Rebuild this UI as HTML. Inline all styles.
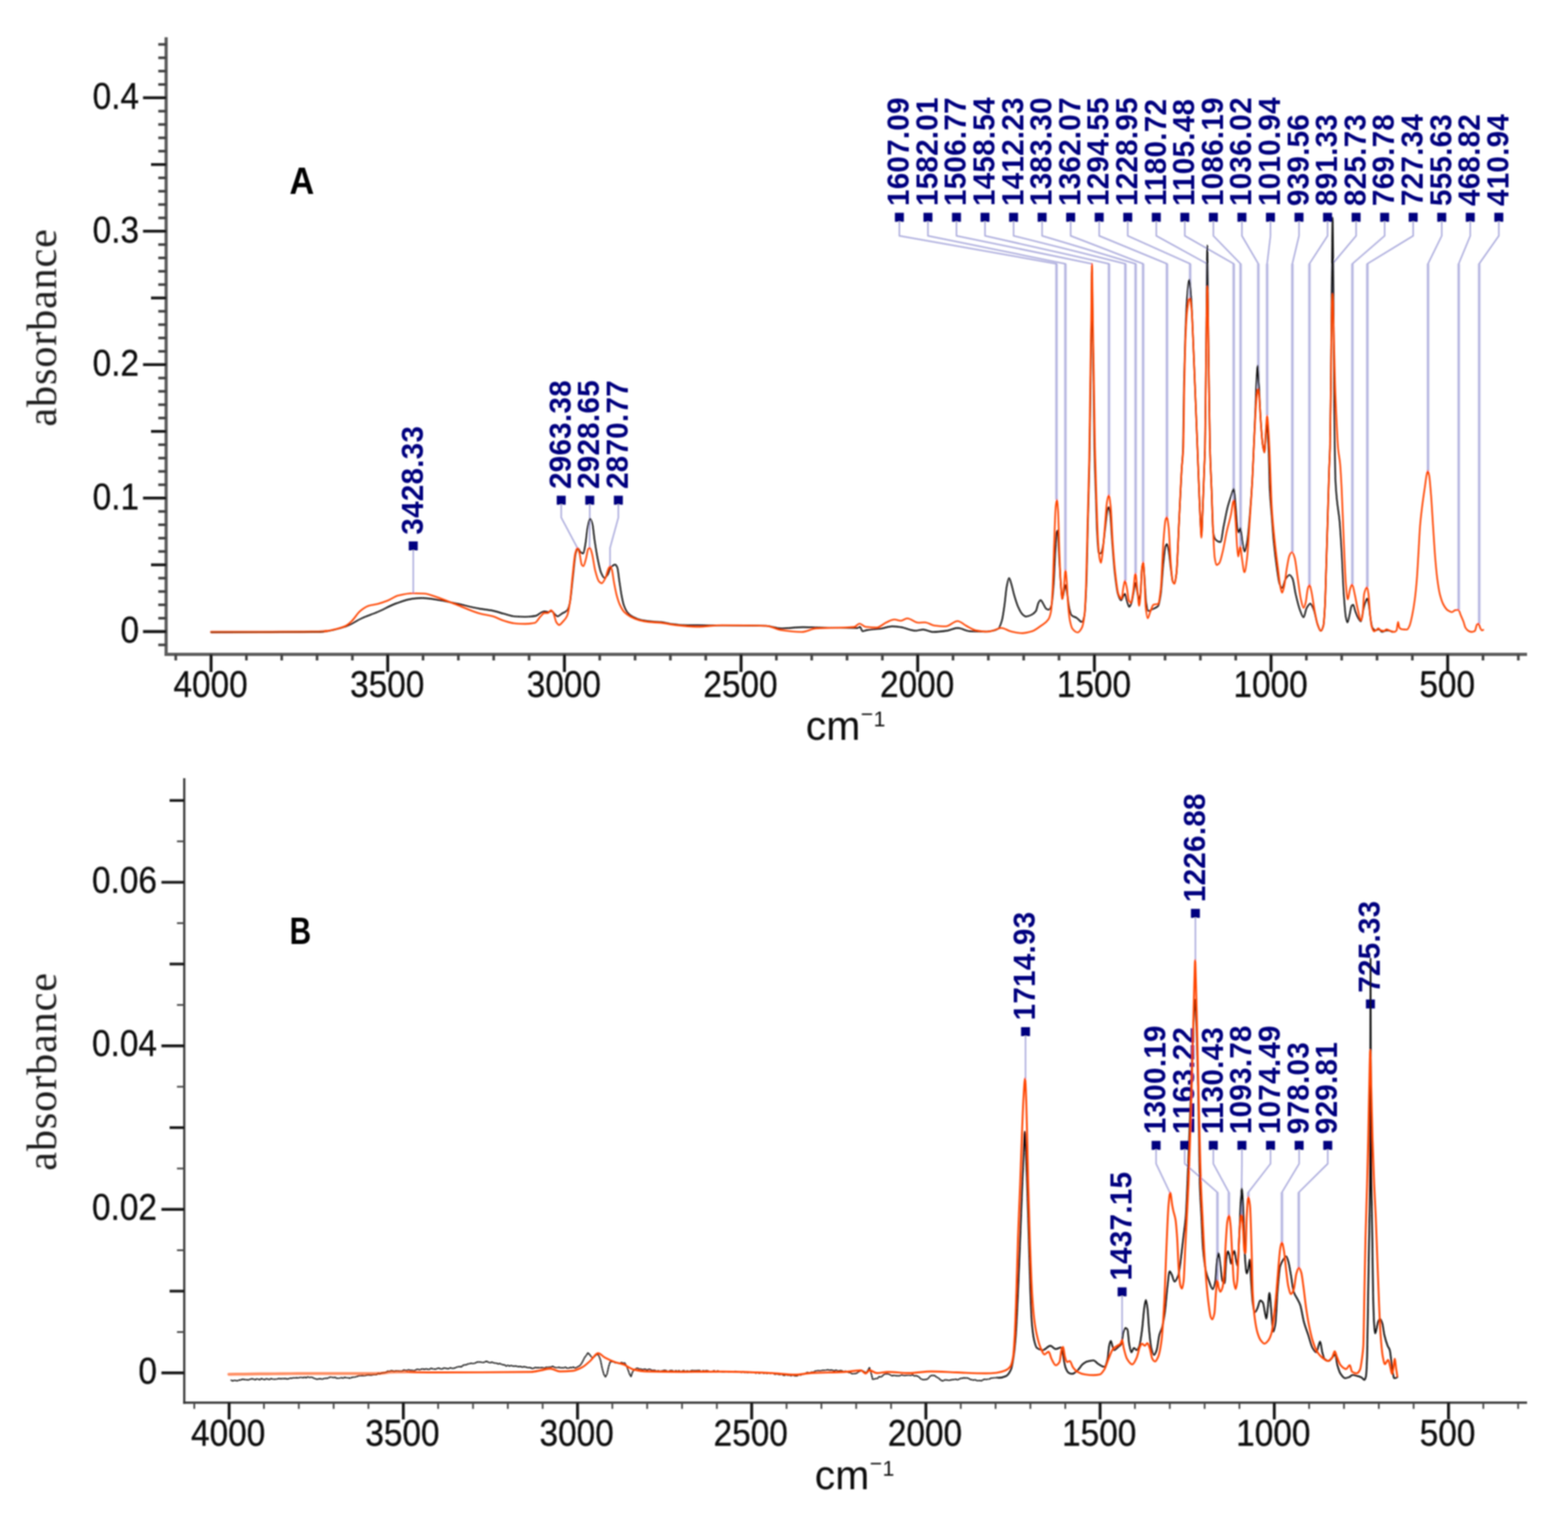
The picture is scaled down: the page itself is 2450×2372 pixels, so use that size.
<!DOCTYPE html>
<html lang="en"><head><meta charset="utf-8"><title>FTIR spectra</title><style>
html,body{margin:0;padding:0;background:#fff;}
body{width:2450px;height:2372px;overflow:hidden;}
svg{display:block;}
text{font-family:"Liberation Sans",sans-serif;fill:#111;}
.tk{font-size:57px;stroke:#111;stroke-width:0.5px;}
.tx{font-size:57px;stroke:#111;stroke-width:0.5px;}
.cm{font-size:64px;}
.sup{font-size:33px;}
.ab{font-family:"Liberation Serif",serif;font-size:66px;fill:#1a1a1a;}
.pl{font-weight:bold;font-size:59px;fill:#000;}
.pk{font-weight:bold;font-size:48.8px;letter-spacing:0.4px;fill:#00007f;}
</style></head><body>
<svg xmlns="http://www.w3.org/2000/svg" width="2450" height="2372" viewBox="0 0 2450 2372">
<rect width="2450" height="2372" fill="#fff"/>
<defs><filter id="b1" filterUnits="userSpaceOnUse" x="0" y="0" width="2450" height="2372"><feGaussianBlur stdDeviation="1"/></filter><filter id="b2" filterUnits="userSpaceOnUse" x="0" y="0" width="2450" height="2372"><feGaussianBlur stdDeviation="0.8"/></filter></defs>
<g id="plot" filter="url(#b1)">
<g id="labels">
<rect x="638.7" y="846" width="14" height="14" fill="#00007f"/>
<text class="pk" transform="translate(660.5 835.5) rotate(-90) scale(0.95 1)">3428.33</text>
<rect x="869.9" y="774.6" width="14" height="14" fill="#00007f"/>
<text class="pk" transform="translate(891.7 764.1) rotate(-90) scale(0.95 1)">2963.38</text>
<rect x="914.5" y="774.6" width="14" height="14" fill="#00007f"/>
<text class="pk" transform="translate(936.3 764.1) rotate(-90) scale(0.95 1)">2928.65</text>
<rect x="959.2" y="774.6" width="14" height="14" fill="#00007f"/>
<text class="pk" transform="translate(981 764.1) rotate(-90) scale(0.95 1)">2870.77</text>
<rect x="1398.3" y="332.5" width="14" height="14" fill="#00007f"/>
<text class="pk" transform="translate(1420.1 322) rotate(-90) scale(0.95 1)">1607.09</text>
<rect x="1442.9" y="332.5" width="14" height="14" fill="#00007f"/>
<text class="pk" transform="translate(1464.7 322) rotate(-90) scale(0.95 1)">1582.01</text>
<rect x="1487.5" y="332.5" width="14" height="14" fill="#00007f"/>
<text class="pk" transform="translate(1509.3 322) rotate(-90) scale(0.95 1)">1506.77</text>
<rect x="1532.1" y="332.5" width="14" height="14" fill="#00007f"/>
<text class="pk" transform="translate(1553.9 322) rotate(-90) scale(0.95 1)">1458.54</text>
<rect x="1576.7" y="332.5" width="14" height="14" fill="#00007f"/>
<text class="pk" transform="translate(1598.5 322) rotate(-90) scale(0.95 1)">1412.23</text>
<rect x="1621.3" y="332.5" width="14" height="14" fill="#00007f"/>
<text class="pk" transform="translate(1643.1 322) rotate(-90) scale(0.95 1)">1383.30</text>
<rect x="1665.9" y="332.5" width="14" height="14" fill="#00007f"/>
<text class="pk" transform="translate(1687.7 322) rotate(-90) scale(0.95 1)">1362.07</text>
<rect x="1710.5" y="332.5" width="14" height="14" fill="#00007f"/>
<text class="pk" transform="translate(1732.3 322) rotate(-90) scale(0.95 1)">1294.55</text>
<rect x="1755.1" y="332.5" width="14" height="14" fill="#00007f"/>
<text class="pk" transform="translate(1776.9 322) rotate(-90) scale(0.95 1)">1228.95</text>
<rect x="1799.7" y="332.5" width="14" height="14" fill="#00007f"/>
<text class="pk" transform="translate(1821.5 322) rotate(-90) scale(0.95 1)">1180.72</text>
<rect x="1844.3" y="332.5" width="14" height="14" fill="#00007f"/>
<text class="pk" transform="translate(1866.1 322) rotate(-90) scale(0.95 1)">1105.48</text>
<rect x="1888.9" y="332.5" width="14" height="14" fill="#00007f"/>
<text class="pk" transform="translate(1910.7 322) rotate(-90) scale(0.95 1)">1086.19</text>
<rect x="1933.5" y="332.5" width="14" height="14" fill="#00007f"/>
<text class="pk" transform="translate(1955.3 322) rotate(-90) scale(0.95 1)">1036.02</text>
<rect x="1978.1" y="332.5" width="14" height="14" fill="#00007f"/>
<text class="pk" transform="translate(1999.9 322) rotate(-90) scale(0.95 1)">1010.94</text>
<rect x="2022.7" y="332.5" width="14" height="14" fill="#00007f"/>
<text class="pk" transform="translate(2044.5 322) rotate(-90) scale(0.95 1)">939.56</text>
<rect x="2067.3" y="332.5" width="14" height="14" fill="#00007f"/>
<text class="pk" transform="translate(2089.1 322) rotate(-90) scale(0.95 1)">891.33</text>
<rect x="2111.9" y="332.5" width="14" height="14" fill="#00007f"/>
<text class="pk" transform="translate(2133.7 322) rotate(-90) scale(0.95 1)">825.73</text>
<rect x="2156.5" y="332.5" width="14" height="14" fill="#00007f"/>
<text class="pk" transform="translate(2178.3 322) rotate(-90) scale(0.95 1)">769.78</text>
<rect x="2201.1" y="332.5" width="14" height="14" fill="#00007f"/>
<text class="pk" transform="translate(2222.9 322) rotate(-90) scale(0.95 1)">727.34</text>
<rect x="2245.7" y="332.5" width="14" height="14" fill="#00007f"/>
<text class="pk" transform="translate(2267.5 322) rotate(-90) scale(0.95 1)">555.63</text>
<rect x="2290.3" y="332.5" width="14" height="14" fill="#00007f"/>
<text class="pk" transform="translate(2312.1 322) rotate(-90) scale(0.95 1)">468.82</text>
<rect x="2334.9" y="332.5" width="14" height="14" fill="#00007f"/>
<text class="pk" transform="translate(2356.7 322) rotate(-90) scale(0.95 1)">410.94</text>
<rect x="1595.4" y="1605" width="14" height="14" fill="#00007f"/>
<text class="pk" transform="translate(1617.2 1594.5) rotate(-90) scale(0.95 1)">1714.93</text>
<rect x="1746.3" y="2011.6" width="14" height="14" fill="#00007f"/>
<text class="pk" transform="translate(1768.1 2001.1) rotate(-90) scale(0.95 1)">1437.15</text>
<rect x="1860.8" y="1420.2" width="14" height="14" fill="#00007f"/>
<text class="pk" transform="translate(1882.6 1409.7) rotate(-90) scale(0.95 1)">1226.88</text>
<rect x="2134.3" y="1561.8" width="14" height="14" fill="#00007f"/>
<text class="pk" transform="translate(2156.1 1551.3) rotate(-90) scale(0.95 1)">725.33</text>
<rect x="1799.4" y="1782.7" width="14" height="14" fill="#00007f"/>
<text class="pk" transform="translate(1821.2 1772.2) rotate(-90) scale(0.95 1)">1300.19</text>
<rect x="1844.1" y="1782.7" width="14" height="14" fill="#00007f"/>
<text class="pk" transform="translate(1865.9 1772.2) rotate(-90) scale(0.95 1)">1163.22</text>
<rect x="1888.8" y="1782.7" width="14" height="14" fill="#00007f"/>
<text class="pk" transform="translate(1910.6 1772.2) rotate(-90) scale(0.95 1)">1130.43</text>
<rect x="1933.5" y="1782.7" width="14" height="14" fill="#00007f"/>
<text class="pk" transform="translate(1955.3 1772.2) rotate(-90) scale(0.95 1)">1093.78</text>
<rect x="1978.2" y="1782.7" width="14" height="14" fill="#00007f"/>
<text class="pk" transform="translate(2000 1772.2) rotate(-90) scale(0.95 1)">1074.49</text>
<rect x="2022.9" y="1782.7" width="14" height="14" fill="#00007f"/>
<text class="pk" transform="translate(2044.7 1772.2) rotate(-90) scale(0.95 1)">978.03</text>
<rect x="2067.6" y="1782.7" width="14" height="14" fill="#00007f"/>
<text class="pk" transform="translate(2089.4 1772.2) rotate(-90) scale(0.95 1)">929.81</text>
</g>
<g id="leaders">
<path d="M1650.8 412.2L1650.8 780.8M1664.7 412.2L1664.7 891.1M1732.8 412.2L1732.8 773.5M1758.4 412.2L1758.4 907.4M1774.4 412.2L1774.4 896M1786.1 412.2L1786.1 878M1823.4 412.2L1823.4 807.8M1859.6 412.2L1859.6 466M1886.2 412.2L1886.2 447M1927.7 412.2L1927.7 781.7M1938.4 412.2L1938.4 853.5M1966.1 412.2L1966.1 607.5M1979.9 412.2L1979.9 649M2019.3 412.2L2019.3 862.5M2046 412.2L2046 913.9M2082.2 412.2L2082.2 459M2113.1 412.2L2113.1 913.1M2136.5 412.2L2136.5 917.2M2231.3 412.2L2231.3 735.9M2279.2 412.2L2279.2 952.7M2311.2 412.2L2311.2 974.4M1827.7 1863.2L1827.7 1863.5M1902.2 1863.2L1902.2 2000.9M1920.1 1863.2L1920.1 1898.9M1940 1863.2L1940 1898.9M1950.5 1863.2L1950.5 1870.2M2003 1863.2L2003 1941.1M2029.3 1863.2L2029.3 1980.7" fill="none" stroke="#dadaf1" stroke-width="5" stroke-linecap="butt"/>
<path d="M645.7 861L645.7 927M876.9 789.6L876.9 808.6M876.9 808.6L902.1 856.1M902.1 856.1L902.1 856.2M921.5 789.6L921.5 808.6M921.5 808.6L921.2 856.1M966.2 789.6L966.2 808.6M966.2 808.6L953.2 856.1M953.2 856.1L953.2 884.8M1405.3 347.5L1405.3 368.5M1405.3 368.5L1650.8 412.2M1449.9 347.5L1449.9 368.5M1449.9 368.5L1664.7 412.2M1494.5 347.5L1494.5 368.5M1494.5 368.5L1706.2 412.2M1539.1 347.5L1539.1 368.5M1539.1 368.5L1732.8 412.2M1583.7 347.5L1583.7 368.5M1583.7 368.5L1758.4 412.2M1628.3 347.5L1628.3 368.5M1628.3 368.5L1774.4 412.2M1672.9 347.5L1672.9 368.5M1672.9 368.5L1786.1 412.2M1717.5 347.5L1717.5 368.5M1717.5 368.5L1823.4 412.2M1762.1 347.5L1762.1 368.5M1762.1 368.5L1859.6 412.2M1806.7 347.5L1806.7 368.5M1806.7 368.5L1886.2 412.2M1851.3 347.5L1851.3 368.5M1851.3 368.5L1927.7 412.2M1895.9 347.5L1895.9 368.5M1895.9 368.5L1938.4 412.2M1940.5 347.5L1940.5 368.5M1940.5 368.5L1966.1 412.2M1985.1 347.5L1985.1 368.5M1985.1 368.5L1979.9 412.2M2029.7 347.5L2029.7 368.5M2029.7 368.5L2019.3 412.2M2074.3 347.5L2074.3 368.5M2074.3 368.5L2046 412.2M2118.9 347.5L2118.9 368.5M2118.9 368.5L2082.2 412.2M2163.5 347.5L2163.5 368.5M2163.5 368.5L2113.1 412.2M2208.1 347.5L2208.1 368.5M2208.1 368.5L2136.5 412.2M2252.7 347.5L2252.7 368.5M2252.7 368.5L2231.3 412.2M2297.3 347.5L2297.3 368.5M2297.3 368.5L2279.2 412.2M2341.9 347.5L2341.9 368.5M2341.9 368.5L2311.2 412.2M1602.4 1620L1602.4 1685M1753.3 2026.6L1753.3 2093M1867.8 1435.2L1867.8 1500M1806.4 1797.7L1806.4 1818.4M1806.4 1818.4L1827.7 1863.2M1851.1 1797.7L1851.1 1818.4M1851.1 1818.4L1902.2 1863.2M1895.8 1797.7L1895.8 1818.4M1895.8 1818.4L1920.1 1863.2M1940.5 1797.7L1940.5 1818.4M1940.5 1818.4L1940 1863.2M1985.2 1797.7L1985.2 1818.4M1985.2 1818.4L1950.5 1863.2M2029.9 1797.7L2029.9 1818.4M2029.9 1818.4L2003 1863.2M2074.6 1797.7L2074.6 1818.4M2074.6 1818.4L2029.3 1863.2" fill="none" stroke="#dadaf1" stroke-width="3.0" stroke-linecap="round"/>
<path d="M1650.8 412.2L1650.8 780.8M1664.7 412.2L1664.7 891.1M1732.8 412.2L1732.8 773.5M1758.4 412.2L1758.4 907.4M1774.4 412.2L1774.4 896M1786.1 412.2L1786.1 878M1823.4 412.2L1823.4 807.8M1859.6 412.2L1859.6 466M1886.2 412.2L1886.2 447M1927.7 412.2L1927.7 781.7M1938.4 412.2L1938.4 853.5M1966.1 412.2L1966.1 607.5M1979.9 412.2L1979.9 649M2019.3 412.2L2019.3 862.5M2046 412.2L2046 913.9M2082.2 412.2L2082.2 459M2113.1 412.2L2113.1 913.1M2136.5 412.2L2136.5 917.2M2231.3 412.2L2231.3 735.9M2279.2 412.2L2279.2 952.7M2311.2 412.2L2311.2 974.4M1827.7 1863.2L1827.7 1863.5M1902.2 1863.2L1902.2 2000.9M1920.1 1863.2L1920.1 1898.9M1940 1863.2L1940 1898.9M1950.5 1863.2L1950.5 1870.2M2003 1863.2L2003 1941.1M2029.3 1863.2L2029.3 1980.7" fill="none" stroke="#acacdd" stroke-width="2.3" stroke-linecap="butt"/>
<path d="M645.7 861L645.7 927M876.9 789.6L876.9 808.6M876.9 808.6L902.1 856.1M902.1 856.1L902.1 856.2M921.5 789.6L921.5 808.6M921.5 808.6L921.2 856.1M966.2 789.6L966.2 808.6M966.2 808.6L953.2 856.1M953.2 856.1L953.2 884.8M1405.3 347.5L1405.3 368.5M1405.3 368.5L1650.8 412.2M1449.9 347.5L1449.9 368.5M1449.9 368.5L1664.7 412.2M1494.5 347.5L1494.5 368.5M1494.5 368.5L1706.2 412.2M1539.1 347.5L1539.1 368.5M1539.1 368.5L1732.8 412.2M1583.7 347.5L1583.7 368.5M1583.7 368.5L1758.4 412.2M1628.3 347.5L1628.3 368.5M1628.3 368.5L1774.4 412.2M1672.9 347.5L1672.9 368.5M1672.9 368.5L1786.1 412.2M1717.5 347.5L1717.5 368.5M1717.5 368.5L1823.4 412.2M1762.1 347.5L1762.1 368.5M1762.1 368.5L1859.6 412.2M1806.7 347.5L1806.7 368.5M1806.7 368.5L1886.2 412.2M1851.3 347.5L1851.3 368.5M1851.3 368.5L1927.7 412.2M1895.9 347.5L1895.9 368.5M1895.9 368.5L1938.4 412.2M1940.5 347.5L1940.5 368.5M1940.5 368.5L1966.1 412.2M1985.1 347.5L1985.1 368.5M1985.1 368.5L1979.9 412.2M2029.7 347.5L2029.7 368.5M2029.7 368.5L2019.3 412.2M2074.3 347.5L2074.3 368.5M2074.3 368.5L2046 412.2M2118.9 347.5L2118.9 368.5M2118.9 368.5L2082.2 412.2M2163.5 347.5L2163.5 368.5M2163.5 368.5L2113.1 412.2M2208.1 347.5L2208.1 368.5M2208.1 368.5L2136.5 412.2M2252.7 347.5L2252.7 368.5M2252.7 368.5L2231.3 412.2M2297.3 347.5L2297.3 368.5M2297.3 368.5L2279.2 412.2M2341.9 347.5L2341.9 368.5M2341.9 368.5L2311.2 412.2M1602.4 1620L1602.4 1685M1753.3 2026.6L1753.3 2093M1867.8 1435.2L1867.8 1500M1806.4 1797.7L1806.4 1818.4M1806.4 1818.4L1827.7 1863.2M1851.1 1797.7L1851.1 1818.4M1851.1 1818.4L1902.2 1863.2M1895.8 1797.7L1895.8 1818.4M1895.8 1818.4L1920.1 1863.2M1940.5 1797.7L1940.5 1818.4M1940.5 1818.4L1940 1863.2M1985.2 1797.7L1985.2 1818.4M1985.2 1818.4L1950.5 1863.2M2029.9 1797.7L2029.9 1818.4M2029.9 1818.4L2003 1863.2M2074.6 1797.7L2074.6 1818.4M2074.6 1818.4L2029.3 1863.2" fill="none" stroke="#9e9ed7" stroke-width="1.5" stroke-linecap="round"/>
</g>
<g id="curves">
<path d="M361 2156.7L363.5 2157.8L366 2156.9L368.5 2157.3L371 2157.6L373.5 2156.5L376 2156.3L378.5 2155.2L381 2155.5L383.5 2155.8L386 2156L388.5 2156.2L391 2155.2L393.5 2154.5L396 2154.9L398.5 2156.1L401 2154.6L403.5 2155.1L406 2156L408.5 2154.1L411 2155.2L413.5 2155.9L416 2154.4L418.5 2155L421 2155.7L423.5 2154.1L426 2154.9L428.5 2155.3L431 2155.1L433.5 2154.6L436 2154L438.5 2154.5L441 2154.2L443.5 2154.3L446 2154L448.5 2154.8L451 2154.5L453.5 2153.4L456 2153.7L458.5 2152.9L461 2153.1L463.5 2152.7L466 2153.1L468.5 2152.4L471 2152.4L473.5 2152.8L476 2152L478.5 2152.9L481 2151.4L483.5 2152.5L486 2151.9L488.5 2152.5L491 2153.9L493.5 2154.7L496 2155.2L498.5 2154.5L501 2154.4L503.5 2155.1L506 2154.1L508.5 2153.8L511 2153.8L513.5 2152.9L516 2151.6L518.5 2152.1L521 2152.7L523.5 2152.1L526 2153.6L528.5 2153.6L531 2153.4L533.5 2152.7L536 2153.5L538.5 2152.2L541 2152.6L543.5 2152.9L546 2153.5L548.5 2152.9L551 2152L553.5 2151.9L556 2151.3L558.5 2150.5L561 2149.6L563.5 2149.6L566 2149.3L568.5 2149.6L571 2149.4L573.5 2148.6L576 2148.3L578.5 2148.7L581 2148.7L583.5 2148.1L586 2148.1L588.5 2148.1L591 2145.9L593.5 2147.1L596 2145.3L598.5 2145L601 2144.9L603.5 2144.1L606 2142.4L608.5 2143L611 2141.6L613.5 2142L616 2142.8L618.5 2141.9L621 2142.1L623.5 2142.3L626 2142.4L628.5 2142.2L631 2140.6L633.5 2141.4L636 2141.4L638.5 2140.4L641 2141.3L643.5 2141.3L646 2141.6L648.5 2141.6L651 2139.8L653.5 2139.8L656 2140.5L658.5 2139.3L661 2139.3L663.5 2139.8L666 2138.8L668.5 2139.8L671 2139.8L673.5 2138L676 2138.9L678.5 2139.3L681 2139.5L683.5 2138.1L686 2137.8L688.5 2139.1L691 2139.1L693.5 2137.6L696 2138L698.5 2138.5L701 2138.7L703.5 2137.2L706 2138.1L708.5 2138.2L711 2137.5L713.5 2136.4L716 2135.6L718.5 2135.5L721 2135.8L723.5 2133.5L726 2132.7L728.5 2132.6L731 2131.3L733.5 2130.9L736 2130.1L738.5 2130.6L741 2130.4L743.5 2129.3L746 2128.2L748.5 2128.2L751 2128.4L753.5 2128.9L756 2129L758.5 2127.5L761 2127.2L763.5 2128.9L766 2129.3L768.5 2128.5L771 2129.4L773.5 2130L776 2130.1L778.5 2131.4L781 2130.5L783.5 2131.8L786 2132.5L788.5 2132.8L791 2134.7L793.5 2133.2L796 2134.7L798.5 2133.7L801 2134.5L803.5 2134.7L806 2134.4L808.5 2135.3L811 2135.5L813.5 2135.2L816 2136.3L818.5 2135.5L821 2136L823.5 2136.7L826 2137L828.5 2136.9L831 2138.3L833.5 2138.2L836 2136.7L838.5 2137.2L841 2137L843.5 2137.4L846 2137L848.5 2137.3L851 2137.9L853.5 2136.4L856 2136.6L858.5 2136.2L861 2136.3L863.5 2134.9L866 2136.5L868.5 2137.2L871 2136.9L873.5 2136.5L876 2137.3L878.5 2137.4L881 2137.3L883.5 2136.3L886 2137.9L888.5 2137.9L891 2136.8L893.5 2137.2L896 2136.1L898.5 2137.9L901 2137L903.5 2135.4L906 2134.1L908.5 2130.8L911 2126.2L913.5 2121.1L916 2118L918.5 2114L921 2116.3L923.5 2119.5L926 2122.4L928.5 2120.1L931 2117.7L933.5 2115.7L936 2118.8L938.5 2126.2L941 2138.6L943.5 2147.6L946 2151.6L948.5 2147.1L951 2135.5L953.5 2127.6L956 2127.9L958.5 2127.7L961 2129.5L963.5 2129.2L966 2130.3L968.5 2130.3L971 2128.9L973.5 2130.1L976 2129.6L978.5 2133.6L981 2139.5L983.5 2146.7L986 2151L988.5 2143.3L991 2140.6L993.5 2138.7L996 2137.8L998.5 2139.4L1001 2139.2L1003.5 2140.1L1006 2139.8L1008.5 2139.5L1011 2141.1L1013.5 2139.6L1016 2139.8L1018.5 2141.5L1021 2141.1L1023.5 2141.3L1026 2142.6L1028.5 2141.6L1031 2142.8L1033.5 2142.3L1036 2141.7L1038.5 2141.2L1041 2141.6L1043.5 2143.1L1046 2142L1048.5 2141.5L1051 2141.8L1053.5 2143L1056 2141.6L1058.5 2142.8L1061 2141.5L1063.5 2143.2L1066 2142.3L1068.5 2141.4L1071 2143.2L1073.5 2142L1076 2142.8L1078.5 2142.4L1081 2141.5L1083.5 2141.6L1086 2141.7L1088.5 2141.7L1091 2141.5L1093.5 2141.5L1096 2143.3L1098.5 2141.6L1101 2142.5L1103.5 2141.7L1106 2141.9L1108.5 2143.1L1111 2143.5L1113.5 2142.6L1116 2141.7L1118.5 2143.7L1121 2141.9L1123.5 2142.6L1126 2143L1128.5 2143.7L1131 2143.7L1133.5 2143.3L1136 2142.9L1138.5 2143.9L1141 2144L1143.5 2144.1L1146 2143.9L1148.5 2142.8L1151 2143.3L1153.5 2143.7L1156 2143.9L1158.5 2144.6L1161 2143.5L1163.5 2144.5L1166 2144L1168.5 2144.9L1171 2143.9L1173.5 2144.6L1176 2143.9L1178.5 2144.3L1181 2145.9L1183.5 2144.7L1186 2146L1188.5 2145.4L1191 2144.6L1193.5 2146.2L1196 2144.9L1198.5 2146.5L1201 2145L1203.5 2146.5L1206 2145.6L1208.5 2146.2L1211 2147.6L1213.5 2146.9L1216 2147.5L1218.5 2148L1221 2147L1223.5 2148.8L1226 2149.2L1228.5 2148L1231 2149L1233.5 2148.7L1236 2149.8L1238.5 2148.5L1241 2149.5L1243.5 2150.1L1246 2149.7L1248.5 2148L1251 2148.9L1253.5 2147L1256 2147.3L1258.5 2145.9L1261 2144.5L1263.5 2145L1266 2144.6L1268.5 2144L1271 2144.2L1273.5 2142.5L1276 2142.1L1278.5 2141.6L1281 2142.2L1283.5 2141.6L1286 2141.3L1288.5 2141.4L1291 2140.9L1293.5 2140.3L1296 2141.2L1298.5 2140.8L1301 2141.2L1303.5 2142.3L1306 2140.9L1308.5 2141.9L1311 2142.1L1313.5 2141.5L1316 2142.1L1318.5 2143.3L1321 2142.3L1323.5 2143.6L1326 2144.7L1328.5 2144.6L1331 2146.6L1333.5 2146.4L1336 2146.2L1338.5 2145.7L1341 2143.7L1343.5 2142.9L1346 2141L1348.5 2142.4L1351 2143.8L1353.5 2145L1356 2141.4L1358.5 2137.1L1361 2145.1L1363.5 2155.3L1366 2154.9L1368.5 2154.1L1371 2154.1L1373.5 2151.1L1376 2151.6L1378.5 2150.3L1381 2147.7L1383.5 2146.8L1386 2146.5L1388.5 2147L1391 2148.2L1393.5 2149.7L1396 2149.3L1398.5 2149.4L1401 2149.8L1403.5 2149.8L1406 2149.7L1408.5 2148.2L1411 2149L1413.5 2149.2L1416 2149L1418.5 2148.9L1421 2148.9L1423.5 2149.2L1426 2147.8L1428.5 2150.1L1431 2149.5L1433.5 2150.4L1436 2151.6L1438.5 2154.3L1441 2155.5L1443.5 2155.9L1446 2155.5L1448.5 2155.2L1451 2153.2L1453.5 2150.2L1456 2149.2L1458.5 2149.3L1461 2149.8L1463.5 2151.9L1466 2153L1468.5 2155.3L1471 2157.3L1473.5 2157.7L1476 2156.2L1478.5 2156.3L1481 2156.6L1483.5 2156.9L1486 2156.2L1488.5 2155.7L1491 2155.6L1493.5 2155.1L1496 2156.1L1498.5 2155.1L1501 2153.8L1503.5 2153.7L1506 2153L1508.5 2153.2L1511 2153.2L1513.5 2153.9L1516 2155.5L1518.5 2155.8L1521 2156.6L1523.5 2155.9L1526 2157.2L1528.5 2157.4L1531 2157.1L1533.5 2157.7L1536 2156L1538.5 2155.1L1541 2155.6L1543.5 2155.1L1546 2154.9L1548.5 2153.4L1551 2153.4L1553.5 2152.9L1556 2152.8L1558.5 2152.5L1561 2152.9L1562 2152.8" fill="none" stroke="#0a0a0a" stroke-width="1.9" stroke-linejoin="round" stroke-linecap="round"/>
<path d="M330 988C386.67 988 443.33 987.91 500 987.5C513.33 987.4 526.67 983.13 540 979C548.33 976.42 556.67 969.99 565 966.25C573.33 962.51 581.67 959.8 590 956.25C600 951.99 610 945.95 620 942.5C628.33 939.62 636.67 936.35 645 935.5C650 934.99 655 934.5 660 934.5C667.5 934.5 675 935.94 682.5 937C692.5 938.41 702.5 940.91 712.5 943C725 945.61 737.5 949.09 750 951.25C756.67 952.4 763.33 952.9 770 954.2C775.6 955.29 781.2 957.43 786.8 958.9C792.43 960.38 798.07 962.65 803.7 963.1C809.3 963.55 814.9 963.9 820.5 963.9C826.1 963.9 831.7 963.25 837.3 962.2C840.13 961.67 842.97 958.39 845.8 957.2C847.47 956.5 849.13 955.5 850.8 955.5C853.07 955.5 855.33 956.4 857.6 956.4C859 956.4 860.4 954.7 861.8 954.7C863.47 954.7 865.13 958.21 866.8 959.7C868.2 960.95 869.6 963.1 871 963.1C873.27 963.1 875.53 960.29 877.8 958.9C880.6 957.18 883.4 956.81 886.2 953.8C887.6 952.29 889 947.81 890.4 942C892.07 935.08 893.73 914.02 895.4 900C896.8 888.22 898.2 869.45 899.6 864.6C900.73 860.68 901.87 857 903 857C904.4 857 905.8 861.9 907.2 862.9C908.6 863.9 910 864.9 911.4 864.9C912.53 864.9 913.67 855.8 914.8 849.4C915.93 843 917.07 829.76 918.2 824.2C919.47 817.99 920.73 810.4 922 810.4C923.23 810.4 924.47 814.66 925.7 819.1C926.83 823.18 927.97 836.86 929.1 844.4C930.8 855.72 932.5 866.53 934.2 874.7C935.87 882.71 937.53 891.09 939.2 894.9C940.9 898.78 942.6 903 944.3 903C945.97 903 947.63 900.53 949.3 898.3C951 896.03 952.7 888.22 954.4 886.5C956.63 884.24 958.87 882.3 961.1 882.3C962.23 882.3 963.37 884.13 964.5 886.5C965.6 888.8 966.7 901.21 967.8 908.4C968.93 915.81 970.07 924.34 971.2 930.3C972.33 936.26 973.47 942.16 974.6 945.4C976.57 951.01 978.53 954.9 980.5 957.2C983.3 960.48 986.1 962.42 988.9 963.9C993.37 966.27 997.83 968.14 1002.3 969C1009.07 970.3 1015.83 971.04 1022.6 971.5C1025.97 971.73 1029.33 971.74 1032.7 972C1037.73 972.38 1042.77 974.23 1047.8 974.9C1053.4 975.65 1059 976.44 1064.6 976.6C1073.07 976.84 1081.53 976.9 1090 977C1125.83 977.44 1161.67 977.21 1197.5 978C1205 978.16 1212.5 982 1220 982C1231.67 982 1243.33 980 1255 980C1262.5 980 1270 980.38 1277.5 980.5C1298.33 980.84 1319.17 981.25 1340 981.25C1341.25 981.25 1342.5 979.5 1343.75 979.5C1345 979.5 1346.25 986.25 1347.5 986.25C1350 986.25 1352.5 984.9 1355 984.5C1362.5 983.3 1370 983.09 1377.5 982C1382.92 981.21 1388.33 978.75 1393.75 978.75C1398.33 978.75 1402.92 979.41 1407.5 980C1415 980.96 1422.5 985.5 1430 985.5C1434.17 985.5 1438.33 983.75 1442.5 983.75C1447.5 983.75 1452.5 987.5 1457.5 987.5C1465 987.5 1472.5 986.52 1480 985.5C1485.42 984.76 1490.83 981.25 1496.25 981.25C1502.5 981.25 1508.75 985.9 1515 986.25C1523.33 986.72 1531.67 987 1540 987C1543.33 987 1546.67 986.39 1550 985.8C1553.27 985.22 1556.53 984.55 1559.8 982.5C1561.7 981.31 1563.6 975.93 1565.5 969.5C1566.87 964.88 1568.23 954.61 1569.6 945C1570.7 937.26 1571.8 922.96 1572.9 917.2C1574.13 910.74 1575.37 903.3 1576.6 903.3C1577.8 903.3 1579 908.63 1580.2 912.3C1581.57 916.47 1582.93 923.86 1584.3 928.6C1586.47 936.11 1588.63 943.41 1590.8 948.2C1593 953.06 1595.2 957.68 1597.4 959.7C1599.3 961.44 1601.2 963.3 1603.1 963.3C1606.1 963.3 1609.1 961.91 1612.1 960.5C1614.27 959.48 1616.43 957.92 1618.6 954.8C1619.97 952.83 1621.33 944.16 1622.7 941.7C1623.77 939.78 1624.83 937.6 1625.9 937.6C1627.27 937.6 1628.63 941.23 1630 943.3C1631.63 945.77 1633.27 950.65 1634.9 951.5C1636.27 952.21 1637.63 952.8 1639 952.8C1640.37 952.8 1641.73 949.47 1643.1 945C1644.2 941.4 1645.3 927.25 1646.4 912.3C1647.2 901.43 1648 876.07 1648.8 863.3C1649.63 849.99 1650.47 832.32 1651.3 830.6C1651.73 829.7 1652.17 829 1652.6 829C1653.23 829 1653.87 852.4 1654.5 863.3C1655.5 880.51 1656.5 899.45 1657.5 912.3C1658.23 921.72 1658.97 936 1659.7 936C1660.6 936 1661.5 928.9 1662.4 925C1663.2 921.53 1664 913.9 1664.8 913.9C1665.73 913.9 1666.67 923.04 1667.6 928.6C1668.7 935.15 1669.8 946.83 1670.9 951.5C1671.97 956.02 1673.03 960.28 1674.1 961.3C1676.83 963.93 1679.57 963.72 1682.3 965.4C1685 967.06 1687.7 971.9 1690.4 971.9C1691.77 971.9 1693.13 967.64 1694.5 961.3C1695.5 956.66 1696.5 936.01 1697.5 912.3C1698.3 893.33 1699.1 846.3 1699.9 814.3C1700.73 780.96 1701.57 759.69 1702.4 716.3C1702.93 688.53 1703.47 639.9 1704 600C1704.43 567.58 1704.87 536.33 1705.3 500C1705.6 474.85 1705.9 418 1706.2 418C1706.57 418 1706.93 473.23 1707.3 500C1707.77 534.07 1708.23 565.42 1708.7 600C1709.13 632.11 1709.57 679.24 1710 700C1710.83 739.92 1711.67 755.44 1712.5 781.7C1713.03 798.5 1713.57 820.53 1714.1 830.6C1714.93 846.33 1715.77 862.47 1716.6 863.3C1717.67 864.37 1718.73 864.9 1719.8 864.9C1720.9 864.9 1722 859.78 1723.1 855.1C1724.47 849.29 1725.83 833.34 1727.2 822.5C1728.3 813.78 1729.4 799.95 1730.5 796.4C1731.13 794.36 1731.77 792.3 1732.4 792.3C1733.1 792.3 1733.8 796.89 1734.5 801.3C1735.6 808.23 1736.7 832.85 1737.8 847C1739.17 864.58 1740.53 884.22 1741.9 896C1743.53 910.08 1745.17 923.7 1746.8 928.6C1748.43 933.5 1750.07 938.1 1751.7 938.1C1752.8 938.1 1753.9 933.74 1755 931.9C1755.9 930.39 1756.8 927.8 1757.7 927.8C1758.7 927.8 1759.7 935.36 1760.7 938.4C1761.93 942.15 1763.17 948.2 1764.4 948.2C1765.6 948.2 1766.8 944.89 1768 941.7C1769.1 938.77 1770.2 931 1771.3 925.4C1772.23 920.65 1773.17 910.7 1774.1 910.7C1775.07 910.7 1776.03 921.12 1777 925.4C1777.97 929.68 1778.93 936.8 1779.9 936.8C1780.67 936.8 1781.43 931.4 1782.2 925.4C1782.9 919.92 1783.6 892.45 1784.3 887.8C1784.97 883.37 1785.63 879.6 1786.3 879.6C1787 879.6 1787.7 894.94 1788.4 904.1C1789.23 915.01 1790.07 936.21 1790.9 941.7C1791.97 948.73 1793.03 954.8 1794.1 954.8C1796.03 954.8 1797.97 953.25 1799.9 952.3C1803.17 950.7 1806.43 950.37 1809.7 946.6C1811.03 945.06 1812.37 937.3 1813.7 928.6C1815.07 919.68 1816.43 892.51 1817.8 879.6C1818.9 869.21 1820 855.98 1821.1 853.5C1821.9 851.69 1822.7 850.2 1823.5 850.2C1824.33 850.2 1825.17 855.61 1826 860C1827.1 865.79 1828.2 879.65 1829.3 887.8C1830.37 895.71 1831.43 907.2 1832.5 909C1833.33 910.41 1834.17 911.5 1835 911.5C1836.07 911.5 1837.13 904.11 1838.2 896C1839.57 885.61 1840.93 841.52 1842.3 814.3C1843.67 787.08 1845.03 756.27 1846.4 732.7C1847.1 720.63 1847.8 718.3 1848.5 700C1849 686.93 1849.5 624.32 1850 600C1850.67 567.57 1851.33 543.67 1852 525C1852.83 501.67 1853.67 480.87 1854.5 470C1855.73 453.91 1856.97 437 1858.2 437C1859.3 437 1860.4 454.61 1861.5 470C1862.33 481.66 1863.17 505.53 1864 525C1865 548.36 1866 575 1867 600C1868.33 633.33 1869.67 665.96 1871 700C1871.83 721.27 1872.67 744.54 1873.5 765C1874.2 782.19 1874.9 801.34 1875.6 814C1876.13 823.64 1876.67 838 1877.2 838C1877.87 838 1878.53 813.3 1879.2 798C1880 779.64 1880.8 754.49 1881.6 732.7C1882 721.81 1882.4 716.43 1882.8 700C1883.2 683.57 1883.6 636.46 1884 600C1884.33 569.61 1884.67 530.43 1885 500C1885.47 457.39 1885.93 383.5 1886.4 383.5C1886.87 383.5 1887.33 461.14 1887.8 500C1888.2 533.31 1888.6 571.23 1889 600C1889.53 638.36 1890.07 679.74 1890.6 700C1891.43 731.65 1892.27 743.09 1893.1 765.3C1893.9 786.63 1894.7 825.69 1895.5 830.6C1896.87 838.99 1898.23 842.55 1899.6 843.7C1902.07 845.78 1904.53 847 1907 847C1908.63 847 1910.27 830.48 1911.9 822.5C1914.07 811.91 1916.23 799.7 1918.4 791.5C1920.3 784.31 1922.2 779.02 1924.1 773.5C1925.3 770.01 1926.5 763.7 1927.7 763.7C1928.67 763.7 1929.63 780.1 1930.6 789.8C1931.7 800.83 1932.8 822.42 1933.9 827.4C1934.43 829.81 1934.97 832.3 1935.5 832.3C1936.33 832.3 1937.17 825 1938 825C1939.1 825 1940.2 841.02 1941.3 847C1942.37 852.8 1943.43 861.7 1944.5 861.7C1945.87 861.7 1947.23 854.21 1948.6 847C1949.97 839.79 1951.33 821.99 1952.7 806.1C1954.07 790.21 1955.43 772.98 1956.8 749C1957.53 736.13 1958.27 716.93 1959 700C1959.83 680.76 1960.67 660.43 1961.5 640C1962.1 625.29 1962.7 605.35 1963.3 595C1963.9 584.65 1964.5 571.3 1965.1 571.3C1965.73 571.3 1966.37 589.17 1967 600C1967.83 614.25 1968.67 636.8 1969.5 650C1970.67 668.48 1971.83 687.45 1973 695C1973.9 700.82 1974.8 707 1975.7 707C1976.3 707 1976.9 692.41 1977.5 685C1978.17 676.76 1978.83 660 1979.5 660C1980 660 1980.5 672 1981 680C1981.5 688 1982 697.06 1982.5 710C1983 722.94 1983.5 754.51 1984 765C1985 785.98 1986 792.77 1987 806C1988.07 820.11 1989.13 836.07 1990.2 847C1991.83 863.73 1993.47 876.49 1995.1 887.8C1996.47 897.26 1997.83 908.88 1999.2 912.3C2000.57 915.72 2001.93 918.8 2003.3 918.8C2004.93 918.8 2006.57 908.45 2008.2 905.8C2010.37 902.28 2012.53 898.4 2014.7 898.4C2016.33 898.4 2017.97 901.02 2019.6 904.1C2021.23 907.18 2022.87 921.59 2024.5 928.6C2026.7 938.04 2028.9 947.39 2031.1 953.1C2033 958.03 2034.9 964.6 2036.8 964.6C2038.43 964.6 2040.07 952.66 2041.7 949.9C2043.6 946.69 2045.5 943.3 2047.4 943.3C2049.03 943.3 2050.67 947.78 2052.3 951.5C2054.47 956.43 2056.63 970.42 2058.8 976C2060.43 980.21 2062.07 985.8 2063.7 985.8C2065.07 985.8 2066.43 982.64 2067.8 977.6C2068.63 974.53 2069.47 960.71 2070.3 945C2070.83 934.95 2071.37 912.82 2071.9 896C2072.73 869.71 2073.57 842.08 2074.4 814.3C2075.2 787.63 2076 755.49 2076.8 732.7C2077.23 720.35 2077.67 716.03 2078.1 700C2078.57 682.74 2079.03 641.3 2079.5 600C2079.93 561.65 2080.37 490.61 2080.8 450C2081.27 406.27 2081.73 340 2082.2 340C2082.63 340 2083.07 402.54 2083.5 450C2083.83 486.51 2084.17 566.47 2084.5 600C2085.2 670.41 2085.9 732.75 2086.6 749C2087.4 767.57 2088.2 773.48 2089 781.7C2090.37 795.75 2091.73 799.99 2093.1 814.3C2094.2 825.82 2095.3 844.64 2096.4 863.3C2097.5 881.96 2098.6 912.84 2099.7 928.6C2100.77 943.88 2101.83 959.35 2102.9 964.6C2103.73 968.7 2104.57 972.7 2105.4 972.7C2106.47 972.7 2107.53 965.52 2108.6 961.3C2109.7 956.95 2110.8 947.79 2111.9 946.6C2112.73 945.7 2113.57 945 2114.4 945C2115.47 945 2116.53 951.95 2117.6 954.8C2119.23 959.16 2120.87 963.61 2122.5 966.2C2123.83 968.32 2125.17 971.1 2126.5 971.1C2127.6 971.1 2128.7 959.64 2129.8 954.8C2130.9 949.96 2132 944.65 2133.1 941.7C2134.17 938.84 2135.23 935.2 2136.3 935.2C2137.13 935.2 2137.97 940.58 2138.8 945C2139.6 949.25 2140.4 959.61 2141.2 964.6C2142.3 971.46 2143.4 979.25 2144.5 980.9C2146.13 983.35 2147.77 985 2149.4 985C2151.03 985 2152.67 983.3 2154.3 983.3C2155.93 983.3 2157.57 987.4 2159.2 987.4C2161.93 987.4 2164.67 985 2167.4 985C2170.1 985 2172.8 985.81 2175.5 987.4" fill="none" stroke="#0a0a0a" stroke-width="2.4" stroke-linejoin="round" stroke-linecap="round"/>
<path d="M330 987.5L342 987.5L354 987.5L366 987.5L378 987.5L390 987.5L402 987.4L414 987.4L426 987.4L438 987.3L450 987.3L462 987.2L474 987.2L486 987.1L498 987L510 986.1" fill="none" stroke="#ff4500" stroke-opacity="0.62" stroke-width="4.0" stroke-linecap="round"/>
<path d="M508 986.39C513.67 985.66 519.33 984.42 525 983C530 981.75 535 980.42 540 978C543.33 976.39 546.67 973.18 550 970C554.17 966.03 558.33 958.48 562.5 955C566.67 951.52 570.83 948.37 575 947C580 945.36 585 945.06 590 943.75C595 942.44 600 940.69 605 938.75C610.83 936.48 616.67 931.89 622.5 930.5C630 928.71 637.5 927 645 927C650.83 927 656.67 927.2 662.5 927.5C669.17 927.84 675.83 930.89 682.5 933C692.5 936.17 702.5 940.68 712.5 944.5C725 949.27 737.5 955.38 750 958.75C756.67 960.54 763.33 961.21 770 963.1C775.6 964.69 781.2 968.08 786.8 969.8C792.43 971.53 798.07 973.5 803.7 974C809.3 974.49 814.9 974.9 820.5 974.9C825.57 974.9 830.63 974.32 835.7 973.2C838.5 972.58 841.3 966.63 844.1 963.9C846.33 961.72 848.57 958 850.8 958C852.5 958 854.2 958 855.9 958C857.57 958 859.23 953.5 860.9 953.5C862.03 953.5 863.17 955.44 864.3 957.2C865.97 959.79 867.63 969.79 869.3 972.3C870.7 974.41 872.1 976.6 873.5 976.6C875.47 976.6 877.43 973.57 879.4 971.5C881.67 969.11 883.93 967.25 886.2 962.2C887.6 959.08 889 951.09 890.4 942C891.8 932.91 893.2 912.81 894.6 900C896 887.19 897.4 869.85 898.8 864.6C899.93 860.35 901.07 856.2 902.2 856.2C903.3 856.2 904.4 860.85 905.5 864.6C906.63 868.47 907.77 880.46 908.9 882.3C909.73 883.65 910.57 884.8 911.4 884.8C912.8 884.8 914.2 877.86 915.6 873C916.73 869.07 917.87 859.45 919 857.9C919.83 856.76 920.67 855.8 921.5 855.8C922.63 855.8 923.77 860.75 924.9 864.6C926.6 870.37 928.3 885.08 930 891.5C931.93 898.8 933.87 906.29 935.8 908.4C937.23 909.97 938.67 911.4 940.1 911.4C942.03 911.4 943.97 907.1 945.9 903.3C947.33 900.48 948.77 892.82 950.2 889.9C951.3 887.66 952.4 884.8 953.5 884.8C954.33 884.8 955.17 887.43 956 889.9C957.13 893.26 958.27 904.05 959.4 910.1C960.8 917.57 962.2 925.13 963.6 930.3C965.3 936.58 967 941.76 968.7 945.4C970.93 950.18 973.17 954.06 975.4 956.4C978.77 959.93 982.13 962.12 985.5 963.9C990 966.27 994.5 968.18 999 969.3C1004.03 970.55 1009.07 971.51 1014.1 972C1020.3 972.6 1026.5 972.62 1032.7 973.2C1037.73 973.67 1042.77 975 1047.8 975.7C1053.4 976.48 1059 977.19 1064.6 977.7C1073.07 978.47 1081.53 979.5 1090 979.5C1102.5 979.5 1115 977 1127.5 977C1150.83 977 1174.17 977.25 1197.5 978C1205 978.24 1212.5 983.42 1220 984.5C1230.83 986.06 1241.67 987.5 1252.5 987.5C1260 987.5 1267.5 982.6 1275 982C1295 980.4 1315 981.51 1335 979.5C1337.67 979.23 1340.33 974.5 1343 974.5C1346.17 974.5 1349.33 979.15 1352.5 979.5C1358.33 980.15 1364.17 980.5 1370 980.5C1375 980.5 1380 974.64 1385 972.5C1389.17 970.72 1393.33 968 1397.5 968C1400.83 968 1404.17 970 1407.5 970C1410.83 970 1414.17 966.25 1417.5 966.25C1423.33 966.25 1429.17 973 1435 973C1438.33 973 1441.67 972.5 1445 972.5C1450 972.5 1455 976.9 1460 977.5C1465.83 978.2 1471.67 978.75 1477.5 978.75C1483.75 978.75 1490 970.5 1496.25 970.5C1500.83 970.5 1505.42 975.69 1510 978C1515 980.52 1520 984.07 1525 985C1530.83 986.09 1536.67 987 1542.5 987C1545 987 1547.5 986.31 1550 985.8C1554.9 984.8 1559.8 981.2 1564.7 981.2C1569.6 981.2 1574.5 985.51 1579.4 986.6C1585.4 987.93 1591.4 989.4 1597.4 989.4C1602.3 989.4 1607.2 988.02 1612.1 986.6C1617 985.18 1621.9 981.13 1626.8 977.6C1630.6 974.86 1634.4 973.45 1638.2 967.8C1639.57 965.77 1640.93 962.31 1642.3 954.8C1643.1 950.4 1643.9 935.85 1644.7 920.5C1645.53 904.51 1646.37 868.56 1647.2 847C1648 826.31 1648.8 799.17 1649.6 791.5C1650.17 786.07 1650.73 780.8 1651.3 780.8C1651.93 780.8 1652.57 789.2 1653.2 798C1653.9 807.73 1654.6 845.11 1655.3 863.3C1656.03 882.36 1656.77 901.65 1657.5 912.3C1658.23 922.95 1658.97 936 1659.7 936C1660.6 936 1661.5 924.87 1662.4 917.2C1663.2 910.38 1664 891.1 1664.8 891.1C1665.47 891.1 1666.13 901.18 1666.8 909C1667.5 917.21 1668.2 936.76 1668.9 945C1669.83 955.98 1670.77 964.95 1671.7 969.5C1673.03 975.99 1674.37 980.85 1675.7 982.5C1678.43 985.88 1681.17 988.2 1683.9 988.2C1686.07 988.2 1688.23 985.03 1690.4 980.9C1691.77 978.29 1693.13 972.35 1694.5 961.3C1695.33 954.56 1696.17 934.42 1697 912.3C1697.8 891.06 1698.6 846.3 1699.4 814.3C1700.23 780.96 1701.07 759.69 1701.9 716.3C1702.43 688.53 1702.97 637.07 1703.5 600C1704 565.24 1704.5 534.98 1705 500C1705.4 472.01 1705.8 412 1706.2 412C1706.67 412 1707.13 471.61 1707.6 500C1708.17 534.48 1708.73 565.65 1709.3 600C1709.83 632.33 1710.37 676.02 1710.9 700C1711.7 735.97 1712.5 758.03 1713.3 781.7C1714.13 806.35 1714.97 834.24 1715.8 847C1716.6 859.25 1717.4 869.16 1718.2 873.1C1718.87 876.38 1719.53 879.6 1720.2 879.6C1721.07 879.6 1721.93 870.19 1722.8 863.3C1724 853.76 1725.2 836.35 1726.4 822.5C1727.47 810.19 1728.53 791.28 1729.6 784.9C1730.53 779.32 1731.47 773.5 1732.4 773.5C1733.4 773.5 1734.4 782.63 1735.4 791.5C1736.47 800.96 1737.53 831.79 1738.6 847C1739.97 866.49 1741.33 884.22 1742.7 896C1744.33 910.08 1745.97 924.94 1747.6 928.6C1749.23 932.26 1750.87 935.2 1752.5 935.2C1753.47 935.2 1754.43 922.05 1755.4 917.2C1756.17 913.35 1756.93 907.4 1757.7 907.4C1758.7 907.4 1759.7 914.12 1760.7 918.8C1761.77 923.79 1762.83 936.56 1763.9 938.4C1765 940.3 1766.1 941.7 1767.2 941.7C1768.3 941.7 1769.4 932.15 1770.5 925.4C1771.7 918.04 1772.9 896 1774.1 896C1775.07 896 1776.03 912.08 1777 920.5C1777.97 928.92 1778.93 946.6 1779.9 946.6C1780.67 946.6 1781.43 937.21 1782.2 928.6C1782.9 920.74 1783.6 893.25 1784.3 887.8C1784.97 882.61 1785.63 878 1786.3 878C1786.9 878 1787.5 893.64 1788.1 904.1C1788.77 915.72 1789.43 941.94 1790.1 948.2C1791.17 958.22 1792.23 966.2 1793.3 966.2C1794.4 966.2 1795.5 960.63 1796.6 958C1798.5 953.46 1800.4 945.82 1802.3 945C1804.77 943.93 1807.23 944.5 1809.7 943.3C1811.03 942.65 1812.37 932.01 1813.7 920.5C1815.07 908.7 1816.43 864.81 1817.8 847C1818.9 832.66 1820 816.85 1821.1 812.7C1821.77 810.18 1822.43 807.8 1823.1 807.8C1824.07 807.8 1825.03 816.04 1826 824.1C1827.1 833.27 1828.2 866.55 1829.3 879.6C1830.37 892.26 1831.43 906.61 1832.5 909C1833.33 910.87 1834.17 912.3 1835 912.3C1836.07 912.3 1837.13 904.45 1838.2 896C1839.57 885.18 1840.93 841.52 1842.3 814.3C1843.67 787.08 1845.03 753.92 1846.4 732.7C1847.23 719.76 1848.07 718.93 1848.9 700C1849.43 687.88 1849.97 625.23 1850.5 600C1851.17 568.46 1851.83 540.18 1852.5 525C1853.33 506.03 1854.17 491.48 1855 485C1856.3 474.9 1857.6 466 1858.9 466C1859.93 466 1860.97 474.92 1862 485C1862.67 491.5 1863.33 510.29 1864 525C1865 547.06 1866 575 1867 600C1868.33 633.33 1869.67 665.88 1871 700C1871.83 721.33 1872.67 744.79 1873.5 765.3C1874.2 782.53 1874.9 800.97 1875.6 814.3C1876.13 824.46 1876.67 840.4 1877.2 840.4C1877.87 840.4 1878.53 813.83 1879.2 798C1880 779.01 1880.8 754.49 1881.6 732.7C1882 721.81 1882.4 716.43 1882.8 700C1883.2 683.57 1883.6 633.33 1884 600C1884.4 566.67 1884.8 523.09 1885.2 500C1885.6 476.91 1886 447 1886.4 447C1886.8 447 1887.2 478.3 1887.6 500C1888.07 525.32 1888.53 568.84 1889 600C1889.53 635.61 1890.07 679.74 1890.6 700C1891.43 731.65 1892.27 743.09 1893.1 765.3C1893.9 786.63 1894.7 814.23 1895.5 830.6C1896.33 847.66 1897.17 866 1898 871.5C1898.93 877.66 1899.87 882.9 1900.8 882.9C1902.3 882.9 1903.8 881.39 1905.3 879.6C1906.93 877.65 1908.57 869.74 1910.2 863.3C1912.4 854.63 1914.6 840.36 1916.8 830.6C1918.97 820.99 1921.13 814.38 1923.3 804.5C1924.77 797.81 1926.23 781.7 1927.7 781.7C1928.67 781.7 1929.63 801.37 1930.6 814.3C1931.43 825.44 1932.27 845.5 1933.1 855.1C1933.63 861.24 1934.17 869.8 1934.7 869.8C1935.8 869.8 1936.9 853.5 1938 853.5C1938.8 853.5 1939.6 866.32 1940.4 871.5C1941.77 880.34 1943.13 894.3 1944.5 894.3C1945.87 894.3 1947.23 882.37 1948.6 871.5C1949.97 860.63 1951.33 834.63 1952.7 814.3C1954.07 793.97 1955.43 774.81 1956.8 749C1957.53 735.15 1958.27 715.47 1959 700C1959.83 682.42 1960.67 664.21 1961.5 650C1962.17 638.63 1962.83 625.7 1963.5 620C1964.2 614.01 1964.9 607.5 1965.6 607.5C1966.23 607.5 1966.87 614.2 1967.5 620C1968.33 627.63 1969.17 648.7 1970 660C1971 673.56 1972 688.61 1973 695C1973.9 700.75 1974.8 707 1975.7 707C1976.3 707 1976.9 688.19 1977.5 680C1978.33 668.63 1979.17 649 1980 649C1980.5 649 1981 658.45 1981.5 665C1982.17 673.74 1982.83 685.77 1983.5 700C1984 710.67 1984.5 727.08 1985 740C1985.67 757.23 1986.33 778.84 1987 790C1988.63 817.33 1990.27 831.15 1991.9 847C1993.53 862.85 1995.17 874.87 1996.8 887.8C1998.17 898.62 1999.53 913.03 2000.9 918.8C2001.7 922.18 2002.5 926.2 2003.3 926.2C2004.4 926.2 2005.5 920.33 2006.6 915.6C2007.97 909.72 2009.33 895.57 2010.7 887.8C2012.03 880.22 2013.37 871.09 2014.7 868.2C2016.07 865.23 2017.43 862.5 2018.8 862.5C2020.17 862.5 2021.53 867.05 2022.9 871.5C2024.53 876.81 2026.17 893.22 2027.8 904.1C2029.43 914.98 2031.07 929.81 2032.7 936.8C2034.07 942.64 2035.43 949.9 2036.8 949.9C2037.9 949.9 2039 945.68 2040.1 941.7C2041.17 937.84 2042.23 924.17 2043.3 920.5C2044.23 917.29 2045.17 913.9 2046.1 913.9C2047.07 913.9 2048.03 919.62 2049 923.7C2050.63 930.6 2052.27 944.52 2053.9 953.1C2055.53 961.68 2057.17 971.42 2058.8 976C2060.43 980.58 2062.07 985.8 2063.7 985.8C2065.07 985.8 2066.43 982.64 2067.8 977.6C2068.63 974.53 2069.47 960.71 2070.3 945C2070.83 934.95 2071.37 912.82 2071.9 896C2072.73 869.71 2073.57 842.08 2074.4 814.3C2075.2 787.63 2076 755.49 2076.8 732.7C2077.23 720.35 2077.67 716.03 2078.1 700C2078.57 682.74 2079.03 634.58 2079.5 600C2079.93 567.89 2080.37 520.4 2080.8 500C2081.2 481.17 2081.6 459 2082 459C2082.5 459 2083 484.01 2083.5 500C2084.33 526.65 2085.17 575 2086 600C2086.83 625 2087.67 642.81 2088.5 660C2089.23 675.13 2089.97 691.89 2090.7 700C2091.77 711.79 2092.83 713.22 2093.9 724.5C2094.73 733.32 2095.57 749.06 2096.4 765.3C2097.5 786.74 2098.6 822.4 2099.7 847C2100.77 870.85 2101.83 899.91 2102.9 912.3C2103.9 923.91 2104.9 936.8 2105.9 936.8C2107.1 936.8 2108.3 924.15 2109.5 920.5C2110.57 917.26 2111.63 913.1 2112.7 913.1C2114.07 913.1 2115.43 922.74 2116.8 928.6C2118.43 935.6 2120.07 946.55 2121.7 953.1C2123.33 959.65 2124.97 969.5 2126.6 969.5C2127.4 969.5 2128.2 965.67 2129 961.3C2129.8 956.93 2130.6 932.81 2131.4 928.6C2132.23 924.22 2133.07 922.25 2133.9 920.5C2134.6 919.03 2135.3 917.2 2136 917.2C2136.77 917.2 2137.53 923.13 2138.3 928.6C2139 933.6 2139.7 947.39 2140.4 954.8C2141.23 963.62 2142.07 974.45 2142.9 977.6C2144.23 982.65 2145.57 986.6 2146.9 986.6C2148.27 986.6 2149.63 985.23 2151 984.2C2151.83 983.57 2152.67 981.7 2153.5 981.7C2154.87 981.7 2156.23 984.62 2157.6 985C2159.23 985.45 2160.87 985.8 2162.5 985.8C2163.83 985.8 2165.17 983.3 2166.5 983.3C2168.43 983.3 2170.37 985.19 2172.3 985.8C2174.47 986.48 2176.63 987.4 2178.8 987.4C2179.9 987.4 2181 986.47 2182.1 985C2182.9 983.93 2183.7 971.9 2184.5 971.9C2185.2 971.9 2185.9 980.04 2186.6 980.9C2187.8 982.38 2189 983.15 2190.2 983.3C2192.93 983.64 2195.67 983.8 2198.4 983.8C2199.77 983.8 2201.13 980.59 2202.5 977.6C2203.87 974.61 2205.23 967.9 2206.6 961.3C2207.93 954.87 2209.27 946.97 2210.6 936.8C2211.7 928.41 2212.8 917.82 2213.9 904.1C2214.73 893.71 2215.57 877.18 2216.4 863.3C2217.2 849.98 2218 832.33 2218.8 822.5C2219.9 808.98 2221 800.49 2222.1 791.5C2223.47 780.33 2224.83 771.52 2226.2 762.1C2227.27 754.75 2228.33 745.1 2229.4 740.8C2229.93 738.65 2230.47 735.9 2231 735.9C2231.67 735.9 2232.33 739.28 2233 742.5C2234 747.34 2235 761.19 2236 773.5C2237.07 786.63 2238.13 806.42 2239.2 822.5C2240.3 839.09 2241.4 858.22 2242.5 871.5C2243.57 884.38 2244.63 895.98 2245.7 904.1C2247.07 914.51 2248.43 923.19 2249.8 928.6C2251.7 936.12 2253.6 941.56 2255.5 945C2257.7 948.98 2259.9 952.14 2262.1 953.6C2264.27 955.04 2266.43 956.5 2268.6 956.5C2270.23 956.5 2271.87 954.04 2273.5 953.6C2275.23 953.13 2276.97 952.7 2278.7 952.7C2279.97 952.7 2281.23 958.65 2282.5 961.6C2283.87 964.78 2285.23 967.47 2286.6 971.1C2287.67 973.93 2288.73 979.18 2289.8 980.9C2291.43 983.53 2293.07 985.27 2294.7 986C2296.33 986.73 2297.97 987.4 2299.6 987.4C2301.23 987.4 2302.87 986.81 2304.5 985.8C2305.6 985.12 2306.7 977.12 2307.8 976C2308.63 975.15 2309.47 974.4 2310.3 974.4C2311.1 974.4 2311.9 979.26 2312.7 980.9C2313.53 982.61 2314.37 985 2315.2 985C2316 985 2316.8 985 2317.6 984.2" fill="none" stroke="#ff4500" stroke-width="2.6" stroke-linejoin="round" stroke-linecap="round"/>
<path d="M1560 2153.07C1564 2153.07 1568 2151.92 1572 2150.2C1574.53 2149.11 1577.07 2145.62 1579.6 2140C1581 2136.89 1582.4 2128.98 1583.8 2119.8C1584.93 2112.37 1586.07 2101.09 1587.2 2086.1C1588.33 2071.11 1589.47 2043.59 1590.6 2018.6C1591.73 1993.61 1592.87 1962.82 1594 1934.3C1595.1 1906.62 1596.2 1876.36 1597.3 1850C1598.03 1832.43 1598.77 1815.04 1599.5 1800C1600.07 1788.38 1600.63 1768 1601.2 1768C1601.8 1768 1602.4 1787.29 1603 1800C1603.63 1813.42 1604.27 1831.7 1604.9 1850C1605.77 1875.04 1606.63 1905.65 1607.5 1934.3C1608.33 1961.85 1609.17 1997.52 1610 2018.6C1610.83 2039.68 1611.67 2059.91 1612.5 2069.2C1613.63 2081.83 1614.77 2089.8 1615.9 2094.5C1617.3 2100.3 1618.7 2105.3 1620.1 2106.3C1623.2 2108.52 1626.3 2109.7 1629.4 2109.7C1633.33 2109.7 1637.27 2102.9 1641.2 2102.9C1644 2102.9 1646.8 2108 1649.6 2108C1652.4 2108 1655.2 2105.5 1658 2105.5C1659.13 2105.5 1660.27 2114.64 1661.4 2119.8C1662.53 2124.96 1663.67 2133.76 1664.8 2136.7C1666.47 2141.02 1668.13 2144.17 1669.8 2145.1C1671.5 2146.05 1673.2 2146.8 1674.9 2146.8C1677.7 2146.8 1680.5 2143.95 1683.3 2141.7C1686.13 2139.42 1688.97 2133.9 1691.8 2131.6C1694.03 2129.79 1696.27 2128.02 1698.5 2127.4C1701.87 2126.47 1705.23 2125.7 1708.6 2125.7C1710.87 2125.7 1713.13 2129.43 1715.4 2130.8C1718.77 2132.84 1722.13 2135.8 1725.5 2135.8C1727.2 2135.8 1728.9 2130.06 1730.6 2123.2C1731.43 2119.84 1732.27 2106.55 1733.1 2102.9C1733.93 2099.25 1734.77 2095.4 1735.6 2095.4C1736.43 2095.4 1737.27 2100.57 1738.1 2102.9C1738.97 2105.32 1739.83 2109.7 1740.7 2109.7C1742.93 2109.7 1745.17 2106.52 1747.4 2104.6C1749.1 2103.13 1750.8 2102.78 1752.5 2099.6C1753.33 2098.04 1754.17 2085.57 1755 2082.7C1756.13 2078.79 1757.27 2075.1 1758.4 2075.1C1759.5 2075.1 1760.6 2076.02 1761.7 2077.6C1762.57 2078.85 1763.43 2094.84 1764.3 2099.6C1765.43 2105.83 1766.57 2113.1 1767.7 2113.1C1769.1 2113.1 1770.5 2106.3 1771.9 2106.3C1773.3 2106.3 1774.7 2109.7 1776.1 2109.7C1777.5 2109.7 1778.9 2106.47 1780.3 2102.9C1781.7 2099.33 1783.1 2088.18 1784.5 2077.6C1785.63 2069.03 1786.77 2051.35 1787.9 2043.9C1788.73 2038.42 1789.57 2031.3 1790.4 2031.3C1791.23 2031.3 1792.07 2037.87 1792.9 2043.9C1793.77 2050.17 1794.63 2068.51 1795.5 2077.6C1796.6 2089.14 1797.7 2101.84 1798.8 2106.3C1800.23 2112.11 1801.67 2117.3 1803.1 2117.3C1804.5 2117.3 1805.9 2113.53 1807.3 2109.7C1808.7 2105.87 1810.1 2091.34 1811.5 2086.1C1812.9 2080.86 1814.3 2079.41 1815.7 2074.3C1817.1 2069.19 1818.5 2062.01 1819.9 2052.4C1821.3 2042.79 1822.7 2021.62 1824.1 2010.2C1825.23 2000.95 1826.37 1986.6 1827.5 1986.6C1828.63 1986.6 1829.77 1989.57 1830.9 1991.7C1832.3 1994.34 1833.7 2002.6 1835.1 2002.6C1837.07 2002.6 1839.03 1998.41 1841 1993.3C1842.67 1988.97 1844.33 1972.18 1846 1959.6C1847.13 1951.04 1848.27 1940.73 1849.4 1930.9C1850.53 1921.07 1851.67 1914.91 1852.8 1900.6C1853.63 1890.08 1854.47 1868.91 1855.3 1850C1856.2 1829.57 1857.1 1803.66 1858 1780C1859 1753.72 1860 1726.67 1861 1700C1862 1673.33 1863 1640.9 1864 1620C1865.13 1596.31 1866.27 1562 1867.4 1562C1868.27 1562 1869.13 1594.87 1870 1620C1870.67 1639.33 1871.33 1669.32 1872 1700C1872.5 1723.01 1873 1752.09 1873.5 1780C1873.9 1802.33 1874.3 1837.26 1874.7 1850C1875.53 1876.55 1876.37 1883.73 1877.2 1900.6C1878.03 1917.47 1878.87 1941.4 1879.7 1951.2C1881.13 1968.05 1882.57 1978.06 1884 1984.9C1885.67 1992.85 1887.33 1997.41 1889 2001.8C1890.97 2006.98 1892.93 2014.4 1894.9 2014.4C1896.3 2014.4 1897.7 2008.98 1899.1 2001.8C1899.97 1997.36 1900.83 1973.8 1901.7 1968C1902.43 1963.09 1903.17 1957.9 1903.9 1957.9C1904.83 1957.9 1905.77 1969.96 1906.7 1976.5C1907.83 1984.44 1908.97 1999.85 1910.1 2001.8C1911.23 2003.75 1912.37 2005.1 1913.5 2005.1C1914.33 2005.1 1915.17 1974.27 1916 1968C1916.83 1961.73 1917.67 1955.4 1918.5 1955.4C1919.37 1955.4 1920.23 1958.52 1921.1 1961.3C1921.93 1963.97 1922.77 1974.8 1923.6 1974.8C1924.43 1974.8 1925.27 1964.29 1926.1 1961.3C1926.93 1958.31 1927.77 1954.6 1928.6 1954.6C1929.47 1954.6 1930.33 1964.06 1931.2 1968C1932.03 1971.79 1932.87 1978.2 1933.7 1978.2C1934.53 1978.2 1935.37 1950.79 1936.2 1934.3C1937.07 1917.16 1937.93 1888.69 1938.8 1875.3C1939.3 1867.57 1939.8 1857 1940.3 1857C1941.2 1857 1942.1 1882.36 1943 1900.6C1943.83 1917.49 1944.67 1956.94 1945.5 1968C1946.33 1979.06 1947.17 1990 1948 1990C1948.87 1990 1949.73 1985.23 1950.6 1981.5C1951.33 1978.35 1952.07 1968 1952.8 1968C1953.47 1968 1954.13 1991.76 1954.8 2001.8C1955.63 2014.35 1956.47 2029.76 1957.3 2035.5C1958.43 2043.31 1959.57 2050.7 1960.7 2050.7C1962.1 2050.7 1963.5 2046.78 1964.9 2043.9C1966.3 2041.02 1967.7 2032.1 1969.1 2032.1C1970.5 2032.1 1971.9 2033.5 1973.3 2035.5C1974.43 2037.12 1975.57 2047.28 1976.7 2052.4C1977.37 2055.41 1978.03 2060.8 1978.7 2060.8C1979.43 2060.8 1980.17 2049.99 1980.9 2043.9C1981.77 2036.7 1982.63 2020.3 1983.5 2020.3C1984.33 2020.3 1985.17 2035.5 1986 2043.9C1987.13 2055.33 1988.27 2081 1989.4 2081C1990.5 2081 1991.6 2075.52 1992.7 2069.2C1993.83 2062.68 1994.97 2031.94 1996.1 2018.6C1997.5 2002.12 1998.9 1982.94 2000.3 1978.2C2002 1972.45 2003.7 1970.52 2005.4 1968C2006.8 1965.93 2008.2 1963 2009.6 1963C2010.73 1963 2011.87 1967.65 2013 1971.4C2014.4 1976.04 2015.8 1985.47 2017.2 1993.3C2018.6 2001.13 2020 2014.36 2021.4 2018.6C2023.1 2023.75 2024.8 2025.28 2026.5 2028.7C2028.17 2032.05 2029.83 2034.25 2031.5 2038.9C2033.47 2044.39 2035.43 2058.67 2037.4 2065.8C2039.67 2074.02 2041.93 2079.3 2044.2 2086.1C2046.43 2092.8 2048.67 2102.61 2050.9 2106.3C2052.87 2109.55 2054.83 2113.1 2056.8 2113.1C2057.93 2113.1 2059.07 2106.1 2060.2 2102.9C2061.03 2100.55 2061.87 2096.2 2062.7 2096.2C2063.83 2096.2 2064.97 2108.89 2066.1 2113.1C2067.23 2117.31 2068.37 2122.14 2069.5 2123.2C2071.73 2125.3 2073.97 2126.6 2076.2 2126.6C2078.43 2126.6 2080.67 2122.05 2082.9 2119.8C2084.03 2118.66 2085.17 2116.4 2086.3 2116.4C2087.43 2116.4 2088.57 2129.26 2089.7 2133.3C2091.37 2139.24 2093.03 2144.34 2094.7 2146.8C2096.97 2150.15 2099.23 2153.5 2101.5 2153.5C2103.73 2153.5 2105.97 2152.63 2108.2 2151.8C2109.9 2151.17 2111.6 2148.5 2113.3 2148.5C2116.1 2148.5 2118.9 2149.42 2121.7 2150.2C2123.7 2150.76 2125.7 2151.58 2127.7 2152.7C2129.1 2153.49 2130.5 2156.1 2131.9 2156.1C2132.73 2156.1 2133.57 2153.85 2134.4 2150.2C2134.97 2147.72 2135.53 2135.39 2136.1 2119.8C2136.67 2104.21 2137.23 2052.32 2137.8 2018.6C2138.37 1984.88 2138.93 1953.53 2139.5 1917.5C2139.83 1896.31 2140.17 1889.51 2140.5 1850C2140.67 1830.24 2140.83 1757.39 2141 1700C2141.17 1642.61 2141.33 1498 2141.5 1498C2141.67 1498 2141.83 1659.05 2142 1700C2142.3 1773.71 2142.6 1821.22 2142.9 1850C2143.33 1891.57 2143.77 1905.06 2144.2 1934.3C2144.6 1961.29 2145 2001.48 2145.4 2018.6C2145.97 2042.86 2146.53 2061.77 2147.1 2069.2C2147.67 2076.63 2148.23 2083.5 2148.8 2083.5C2149.63 2083.5 2150.47 2077.51 2151.3 2074.3C2152.13 2071.09 2152.97 2065.85 2153.8 2064.2C2154.67 2062.48 2155.53 2060.8 2156.4 2060.8C2157.5 2060.8 2158.6 2064.25 2159.7 2067.5C2160.83 2070.85 2161.97 2081.36 2163.1 2086.1C2164.8 2093.21 2166.5 2098.66 2168.2 2102.9C2169.3 2105.64 2170.4 2106.11 2171.5 2109.7C2172.37 2112.53 2173.23 2121.89 2174.1 2128.2C2174.93 2134.26 2175.77 2142.59 2176.6 2146.8C2177.17 2149.66 2177.73 2153.5 2178.3 2153.5C2179.97 2153.5 2181.63 2153.5 2183.3 2151.8" fill="none" stroke="#0a0a0a" stroke-width="2.6" stroke-linejoin="round" stroke-linecap="round"/>
<path d="M357.5 2147.5L369.5 2147.3L381.5 2147.2L393.5 2147L405.5 2146.8L417.5 2146.7L429.5 2146.6L441.5 2146.5L453.5 2146.4L465.5 2146.3L477.5 2146.3L489.5 2146.3L501.5 2146.2L513.5 2146.2L525.5 2146.2L537.5 2146.2L549.5 2146.2L561.5 2146.2L573.5 2146.2L585.5 2146.2L597.5 2145.7L609.5 2144.1L621.5 2143.8L633.5 2143.9" fill="none" stroke="#ff4500" stroke-opacity="0.62" stroke-width="4.4" stroke-linecap="round"/>
<path d="M636 2143.89C654 2144.18 672 2144.5 690 2144.5C736.67 2144.5 783.33 2144.4 830 2143.75C835 2143.68 840 2142.08 845 2141.25C850 2140.42 855 2138.75 860 2138.75C865 2138.75 870 2143 875 2143C881.67 2143 888.33 2142.61 895 2142C900 2141.54 905 2138.87 910 2136.25C914.17 2134.07 918.33 2129.92 922.5 2126.25C926.5 2122.73 930.5 2114.5 934.5 2114.5C938 2114.5 941.5 2119.38 945 2121.25C950 2123.92 955 2126.2 960 2128C965 2129.8 970 2130.62 975 2132.5C980 2134.38 985 2138.82 990 2140C996.67 2141.58 1003.33 2142.81 1010 2143C1029.17 2143.53 1048.33 2143.75 1067.5 2143.75C1088.33 2143.75 1109.17 2143.25 1130 2143.25C1155 2143.25 1180 2144.42 1205 2145.5C1217.5 2146.04 1230 2148 1242.5 2148C1250.83 2148 1259.17 2145.94 1267.5 2145.5C1285 2144.57 1302.5 2144.68 1320 2143.75C1328.33 2143.31 1336.67 2141.25 1345 2141.25C1347.5 2141.25 1350 2146.25 1352.5 2146.25C1354.58 2146.25 1356.67 2141.25 1358.75 2141.25C1362.5 2141.25 1366.25 2145.5 1370 2145.5C1375.83 2145.5 1381.67 2143.75 1387.5 2143.75C1398.33 2143.75 1409.17 2145.5 1420 2145.5C1431.67 2145.5 1443.33 2143 1455 2143C1468.33 2143 1481.67 2144.03 1495 2144.5C1510 2145.03 1525 2146 1540 2146C1545.63 2146 1551.27 2145.61 1556.9 2145.1C1561.4 2144.69 1565.9 2143.5 1570.4 2141.7C1573.2 2140.58 1576 2138.94 1578.8 2135C1580.2 2133.03 1581.6 2128.2 1583 2119.8C1583.83 2114.8 1584.67 2100.86 1585.5 2086.1C1586.37 2070.75 1587.23 2044.05 1588.1 2018.6C1588.93 1994.13 1589.77 1958.3 1590.6 1934.3C1591.73 1901.66 1592.87 1879.9 1594 1850C1594.83 1828.02 1595.67 1801.54 1596.5 1780C1597.33 1758.46 1598.17 1734.08 1599 1720C1599.9 1704.79 1600.8 1685 1601.7 1685C1602.3 1685 1602.9 1704.13 1603.5 1720C1604 1733.22 1604.5 1759.11 1605 1780C1605.53 1802.28 1606.07 1829.49 1606.6 1850C1607.43 1882.04 1608.27 1910.3 1609.1 1934.3C1610.23 1966.94 1611.37 1999.85 1612.5 2018.6C1613.63 2037.35 1614.77 2051.49 1615.9 2060.8C1617.3 2072.3 1618.7 2079.89 1620.1 2086.1C1622.07 2094.82 1624.03 2101.81 1626 2106.3C1627.97 2110.79 1629.93 2116.4 1631.9 2116.4C1634.13 2116.4 1636.37 2112.2 1638.6 2112.2C1640.03 2112.2 1641.47 2120.43 1642.9 2123.2C1645.13 2127.52 1647.37 2133.3 1649.6 2133.3C1651.57 2133.3 1653.53 2131.38 1655.5 2128.2C1656.63 2126.37 1657.77 2110.67 1658.9 2108C1659.63 2106.27 1660.37 2104.6 1661.1 2104.6C1662.03 2104.6 1662.97 2116.59 1663.9 2119.8C1665.03 2123.7 1666.17 2128.2 1667.3 2128.2C1668.7 2128.2 1670.1 2126.6 1671.5 2126.6C1673.2 2126.6 1674.9 2134.41 1676.6 2136.7C1678.83 2139.71 1681.07 2142.17 1683.3 2143.4C1687.23 2145.56 1691.17 2147.03 1695.1 2147.6C1699.6 2148.25 1704.1 2148.8 1708.6 2148.8C1711.97 2148.8 1715.33 2148.36 1718.7 2147.6C1720.97 2147.09 1723.23 2143.51 1725.5 2140C1727.73 2136.54 1729.97 2128.48 1732.2 2123.2C1734.47 2117.84 1736.73 2110.57 1739 2108C1741.23 2105.47 1743.47 2104.46 1745.7 2102.9C1747.4 2101.72 1749.1 2101.45 1750.8 2099.6C1751.63 2098.69 1752.47 2093.7 1753.3 2093.7C1754.13 2093.7 1754.97 2102.89 1755.8 2106.3C1757.5 2113.26 1759.2 2120.37 1760.9 2123.2C1763.7 2127.85 1766.5 2132 1769.3 2132C1771.57 2132 1773.83 2126.4 1776.1 2121.5C1777.77 2117.9 1779.43 2107.93 1781.1 2104.6C1782.23 2102.33 1783.37 2099.6 1784.5 2099.6C1785.9 2099.6 1787.3 2102.9 1788.7 2102.9C1790.1 2102.9 1791.5 2098.7 1792.9 2098.7C1794.03 2098.7 1795.17 2103.08 1796.3 2106.3C1797.7 2110.28 1799.1 2120.96 1800.5 2123.2C1801.9 2125.44 1803.3 2127.4 1804.7 2127.4C1806.4 2127.4 1808.1 2123.7 1809.8 2119.8C1811.5 2115.9 1813.2 2107.16 1814.9 2094.5C1816.3 2084.07 1817.7 2060.85 1819.1 2035.5C1820.23 2014.98 1821.37 1976.59 1822.5 1951.2C1823.6 1926.55 1824.7 1895.87 1825.8 1883.7C1826.67 1874.11 1827.53 1863.5 1828.4 1863.5C1829.5 1863.5 1830.6 1877.71 1831.7 1883.7C1832.27 1886.79 1832.83 1889.63 1833.4 1892.2C1834.5 1897.18 1835.6 1898.95 1836.7 1905.6C1837.57 1910.84 1838.43 1921.9 1839.3 1934.3C1840.13 1946.23 1840.97 1974.17 1841.8 1984.9C1842.63 1995.63 1843.47 2005.78 1844.3 2008.5C1845.17 2011.33 1846.03 2013.6 1846.9 2013.6C1847.73 2013.6 1848.57 2008.18 1849.4 2001.8C1850.23 1995.42 1851.07 1967.74 1851.9 1951.2C1852.77 1934 1853.63 1917.8 1854.5 1900.6C1855.33 1884.06 1856.17 1869.58 1857 1850C1857.83 1830.42 1858.67 1804.89 1859.5 1780C1860.33 1755.11 1861.17 1729.63 1862 1700C1862.83 1670.37 1863.67 1632.84 1864.5 1600C1865.1 1576.36 1865.7 1548.97 1866.3 1530C1866.67 1518.41 1867.03 1500 1867.4 1500C1867.77 1500 1868.13 1518.41 1868.5 1530C1869.1 1548.97 1869.7 1574.92 1870.3 1600C1871.03 1630.66 1871.77 1668.83 1872.5 1700C1873.17 1728.34 1873.83 1754.44 1874.5 1780C1875.13 1804.28 1875.77 1833.23 1876.4 1850C1877.23 1872.06 1878.07 1883.73 1878.9 1900.6C1879.73 1917.47 1880.57 1936.79 1881.4 1951.2C1882.53 1970.79 1883.67 1988.31 1884.8 2001.8C1885.93 2015.29 1887.07 2026.65 1888.2 2035.5C1889.33 2044.35 1890.47 2054.47 1891.6 2057.4C1892.43 2059.56 1893.27 2061.6 1894.1 2061.6C1895.23 2061.6 1896.37 2057.69 1897.5 2052.4C1898.33 2048.51 1899.17 2026.96 1900 2018.6C1900.73 2011.24 1901.47 2000.9 1902.2 2000.9C1902.87 2000.9 1903.53 2009.47 1904.2 2011.9C1905.03 2014.94 1905.87 2018.6 1906.7 2018.6C1907.83 2018.6 1908.97 2015.54 1910.1 2011.9C1910.93 2009.22 1911.77 2002.24 1912.6 1993.3C1913.47 1984 1914.33 1956.49 1915.2 1942.7C1916.03 1929.44 1916.87 1914.18 1917.7 1909C1918.53 1903.82 1919.37 1898.9 1920.2 1898.9C1921.03 1898.9 1921.87 1906.6 1922.7 1914.1C1923.57 1921.9 1924.43 1944.71 1925.3 1959.6C1926.13 1973.92 1926.97 1995.96 1927.8 2001.8C1928.77 2008.58 1929.73 2014.4 1930.7 2014.4C1931.53 2014.4 1932.37 2008.79 1933.2 2001.8C1933.93 1995.65 1934.67 1965.53 1935.4 1951.2C1936.23 1934.92 1937.07 1915.35 1937.9 1909C1938.57 1903.92 1939.23 1898.9 1939.9 1898.9C1940.63 1898.9 1941.37 1909.24 1942.1 1917.5C1942.83 1925.76 1943.57 1952.13 1944.3 1954.6C1944.87 1956.51 1945.43 1957.9 1946 1957.9C1946.67 1957.9 1947.33 1911.88 1948 1900.6C1948.87 1885.94 1949.73 1870.2 1950.6 1870.2C1951.43 1870.2 1952.27 1876.2 1953.1 1883.7C1953.93 1891.2 1954.77 1924.1 1955.6 1951.2C1956.17 1969.63 1956.73 2007.23 1957.3 2018.6C1958.43 2041.35 1959.57 2052.36 1960.7 2060.8C1962.1 2071.23 1963.5 2078.16 1964.9 2082.7C1966.6 2088.22 1968.3 2092.34 1970 2094.5C1971.97 2097 1973.93 2099.6 1975.9 2099.6C1977.87 2099.6 1979.83 2097.02 1981.8 2094.5C1983.47 2092.36 1985.13 2088.72 1986.8 2082.7C1988.2 2077.65 1989.6 2064.17 1991 2052.4C1992.13 2042.87 1993.27 2031.1 1994.4 2018.6C1995.53 2006.1 1996.67 1989.06 1997.8 1976.5C1998.63 1967.27 1999.47 1956.01 2000.3 1951.2C2001.13 1946.39 2001.97 1941.1 2002.8 1941.1C2003.93 1941.1 2005.07 1948.37 2006.2 1954.6C2007.33 1960.83 2008.47 1975.71 2009.6 1984.9C2010.73 1994.09 2011.87 2005.5 2013 2010.2C2014.4 2016 2015.8 2022 2017.2 2022C2018.6 2022 2020 2018.83 2021.4 2015.3C2022.8 2011.77 2024.2 1994.76 2025.6 1990C2026.9 1985.58 2028.2 1980.7 2029.5 1980.7C2030.73 1980.7 2031.97 1984.43 2033.2 1988.3C2034.33 1991.86 2035.47 2002.13 2036.6 2010.2C2038 2020.17 2039.4 2034.27 2040.8 2043.9C2042.2 2053.53 2043.6 2062.12 2045 2069.2C2046.97 2079.15 2048.93 2088.22 2050.9 2094.5C2053.13 2101.63 2055.37 2107.74 2057.6 2111.4C2060.43 2116.04 2063.27 2119.22 2066.1 2121.5C2068.9 2123.75 2071.7 2126.6 2074.5 2126.6C2076.77 2126.6 2079.03 2124.2 2081.3 2121.5C2082.7 2119.83 2084.1 2111.4 2085.5 2111.4C2086.6 2111.4 2087.7 2117.14 2088.8 2119.8C2090.77 2124.56 2092.73 2131.14 2094.7 2133.3C2097.53 2136.42 2100.37 2139.2 2103.2 2139.2C2105.17 2139.2 2107.13 2133.3 2109.1 2133.3C2110.23 2133.3 2111.37 2142.65 2112.5 2143.4C2115 2145.07 2117.5 2145.9 2120 2145.9C2121.7 2145.9 2123.4 2143.45 2125.1 2140C2126.23 2137.7 2127.37 2128.47 2128.5 2119.8C2129.07 2115.46 2129.63 2112.29 2130.2 2102.9C2130.77 2093.51 2131.33 2046.7 2131.9 2018.6C2132.47 1990.5 2133.03 1957.33 2133.6 1934.3C2134.43 1900.44 2135.27 1881.09 2136.1 1850C2136.67 1828.86 2137.23 1805.62 2137.8 1780C2138.33 1755.89 2138.87 1722.64 2139.4 1700C2139.93 1677.36 2140.47 1641 2141 1641C2141.53 1641 2142.07 1679.56 2142.6 1700C2143.27 1725.54 2143.93 1757.89 2144.6 1780C2145.43 1807.63 2146.27 1830.42 2147.1 1850C2147.93 1869.58 2148.77 1881.33 2149.6 1900.6C2150.43 1919.87 2151.27 1945.95 2152.1 1968C2152.97 1990.93 2153.83 2015.8 2154.7 2035.5C2155.53 2054.44 2156.37 2074.81 2157.2 2086.1C2158.33 2101.45 2159.47 2113.86 2160.6 2119.8C2161.7 2125.57 2162.8 2131.6 2163.9 2131.6C2165.6 2131.6 2167.3 2124.9 2169 2124.9C2170.13 2124.9 2171.27 2132.45 2172.4 2136.7C2173.23 2139.82 2174.07 2146.8 2174.9 2146.8C2175.73 2146.8 2176.57 2141.26 2177.4 2136.7C2177.97 2133.6 2178.53 2123.2 2179.1 2123.2C2179.97 2123.2 2180.83 2134.44 2181.7 2140C2182.23 2143.42 2182.77 2146.82 2183.3 2150.2" fill="none" stroke="#ff4500" stroke-width="2.9" stroke-linejoin="round" stroke-linecap="round"/>
</g>
</g>
<g id="deco">
<g id="axesA" filter="url(#b2)">
<line x1="259.6" y1="58.2" x2="259.6" y2="1025" stroke="#5c5c5c" stroke-width="5.0"/>
<line x1="257.1" y1="1022.5" x2="2386" y2="1022.5" stroke="#5c5c5c" stroke-width="5.0"/>
<line x1="247.3" y1="1007.7" x2="260" y2="1007.7" stroke="#424242" stroke-width="4.1"/>
<line x1="223.5" y1="986.9" x2="260" y2="986.9" stroke="#161616" stroke-width="4.6"/>
<line x1="247.3" y1="966" x2="260" y2="966" stroke="#424242" stroke-width="4.1"/>
<line x1="247.3" y1="945.1" x2="260" y2="945.1" stroke="#424242" stroke-width="4.1"/>
<line x1="247.3" y1="924.3" x2="260" y2="924.3" stroke="#424242" stroke-width="4.1"/>
<line x1="247.3" y1="903.4" x2="260" y2="903.4" stroke="#424242" stroke-width="4.1"/>
<line x1="236" y1="882.6" x2="260" y2="882.6" stroke="#161616" stroke-width="4.4"/>
<line x1="247.3" y1="861.7" x2="260" y2="861.7" stroke="#424242" stroke-width="4.1"/>
<line x1="247.3" y1="840.9" x2="260" y2="840.9" stroke="#424242" stroke-width="4.1"/>
<line x1="247.3" y1="820" x2="260" y2="820" stroke="#424242" stroke-width="4.1"/>
<line x1="247.3" y1="799.2" x2="260" y2="799.2" stroke="#424242" stroke-width="4.1"/>
<line x1="223.5" y1="778.3" x2="260" y2="778.3" stroke="#161616" stroke-width="4.6"/>
<line x1="247.3" y1="757.5" x2="260" y2="757.5" stroke="#424242" stroke-width="4.1"/>
<line x1="247.3" y1="736.6" x2="260" y2="736.6" stroke="#424242" stroke-width="4.1"/>
<line x1="247.3" y1="715.8" x2="260" y2="715.8" stroke="#424242" stroke-width="4.1"/>
<line x1="247.3" y1="694.9" x2="260" y2="694.9" stroke="#424242" stroke-width="4.1"/>
<line x1="236" y1="674.1" x2="260" y2="674.1" stroke="#161616" stroke-width="4.4"/>
<line x1="247.3" y1="653.2" x2="260" y2="653.2" stroke="#424242" stroke-width="4.1"/>
<line x1="247.3" y1="632.4" x2="260" y2="632.4" stroke="#424242" stroke-width="4.1"/>
<line x1="247.3" y1="611.5" x2="260" y2="611.5" stroke="#424242" stroke-width="4.1"/>
<line x1="247.3" y1="590.7" x2="260" y2="590.7" stroke="#424242" stroke-width="4.1"/>
<line x1="223.5" y1="569.8" x2="260" y2="569.8" stroke="#161616" stroke-width="4.6"/>
<line x1="247.3" y1="549" x2="260" y2="549" stroke="#424242" stroke-width="4.1"/>
<line x1="247.3" y1="528.1" x2="260" y2="528.1" stroke="#424242" stroke-width="4.1"/>
<line x1="247.3" y1="507.3" x2="260" y2="507.3" stroke="#424242" stroke-width="4.1"/>
<line x1="247.3" y1="486.4" x2="260" y2="486.4" stroke="#424242" stroke-width="4.1"/>
<line x1="236" y1="465.6" x2="260" y2="465.6" stroke="#161616" stroke-width="4.4"/>
<line x1="247.3" y1="444.7" x2="260" y2="444.7" stroke="#424242" stroke-width="4.1"/>
<line x1="247.3" y1="423.9" x2="260" y2="423.9" stroke="#424242" stroke-width="4.1"/>
<line x1="247.3" y1="403" x2="260" y2="403" stroke="#424242" stroke-width="4.1"/>
<line x1="247.3" y1="382.2" x2="260" y2="382.2" stroke="#424242" stroke-width="4.1"/>
<line x1="223.5" y1="361.3" x2="260" y2="361.3" stroke="#161616" stroke-width="4.6"/>
<line x1="247.3" y1="340.5" x2="260" y2="340.5" stroke="#424242" stroke-width="4.1"/>
<line x1="247.3" y1="319.6" x2="260" y2="319.6" stroke="#424242" stroke-width="4.1"/>
<line x1="247.3" y1="298.8" x2="260" y2="298.8" stroke="#424242" stroke-width="4.1"/>
<line x1="247.3" y1="277.9" x2="260" y2="277.9" stroke="#424242" stroke-width="4.1"/>
<line x1="236" y1="257.1" x2="260" y2="257.1" stroke="#161616" stroke-width="4.4"/>
<line x1="247.3" y1="236.2" x2="260" y2="236.2" stroke="#424242" stroke-width="4.1"/>
<line x1="247.3" y1="215.4" x2="260" y2="215.4" stroke="#424242" stroke-width="4.1"/>
<line x1="247.3" y1="194.5" x2="260" y2="194.5" stroke="#424242" stroke-width="4.1"/>
<line x1="247.3" y1="173.7" x2="260" y2="173.7" stroke="#424242" stroke-width="4.1"/>
<line x1="223.5" y1="152.8" x2="260" y2="152.8" stroke="#161616" stroke-width="4.6"/>
<line x1="247.3" y1="132" x2="260" y2="132" stroke="#424242" stroke-width="4.1"/>
<line x1="247.3" y1="111.1" x2="260" y2="111.1" stroke="#424242" stroke-width="4.1"/>
<line x1="247.3" y1="90.3" x2="260" y2="90.3" stroke="#424242" stroke-width="4.1"/>
<line x1="247.3" y1="69.4" x2="260" y2="69.4" stroke="#424242" stroke-width="4.1"/>
<line x1="2372.4" y1="1022.5" x2="2372.4" y2="1032" stroke="#424242" stroke-width="4.1"/>
<line x1="2317.2" y1="1022.5" x2="2317.2" y2="1032" stroke="#424242" stroke-width="4.1"/>
<line x1="2262" y1="1022.5" x2="2262" y2="1050" stroke="#161616" stroke-width="4.6"/>
<line x1="2206.8" y1="1022.5" x2="2206.8" y2="1032" stroke="#424242" stroke-width="4.1"/>
<line x1="2151.6" y1="1022.5" x2="2151.6" y2="1032" stroke="#424242" stroke-width="4.1"/>
<line x1="2096.4" y1="1022.5" x2="2096.4" y2="1032" stroke="#424242" stroke-width="4.1"/>
<line x1="2041.2" y1="1022.5" x2="2041.2" y2="1032" stroke="#424242" stroke-width="4.1"/>
<line x1="1986" y1="1022.5" x2="1986" y2="1050" stroke="#161616" stroke-width="4.6"/>
<line x1="1930.8" y1="1022.5" x2="1930.8" y2="1032" stroke="#424242" stroke-width="4.1"/>
<line x1="1875.6" y1="1022.5" x2="1875.6" y2="1032" stroke="#424242" stroke-width="4.1"/>
<line x1="1820.4" y1="1022.5" x2="1820.4" y2="1032" stroke="#424242" stroke-width="4.1"/>
<line x1="1765.2" y1="1022.5" x2="1765.2" y2="1032" stroke="#424242" stroke-width="4.1"/>
<line x1="1710" y1="1022.5" x2="1710" y2="1050" stroke="#161616" stroke-width="4.6"/>
<line x1="1654.7" y1="1022.5" x2="1654.7" y2="1032" stroke="#424242" stroke-width="4.1"/>
<line x1="1599.5" y1="1022.5" x2="1599.5" y2="1032" stroke="#424242" stroke-width="4.1"/>
<line x1="1544.3" y1="1022.5" x2="1544.3" y2="1032" stroke="#424242" stroke-width="4.1"/>
<line x1="1489.1" y1="1022.5" x2="1489.1" y2="1032" stroke="#424242" stroke-width="4.1"/>
<line x1="1433.9" y1="1022.5" x2="1433.9" y2="1050" stroke="#161616" stroke-width="4.6"/>
<line x1="1378.7" y1="1022.5" x2="1378.7" y2="1032" stroke="#424242" stroke-width="4.1"/>
<line x1="1323.5" y1="1022.5" x2="1323.5" y2="1032" stroke="#424242" stroke-width="4.1"/>
<line x1="1268.3" y1="1022.5" x2="1268.3" y2="1032" stroke="#424242" stroke-width="4.1"/>
<line x1="1213.1" y1="1022.5" x2="1213.1" y2="1032" stroke="#424242" stroke-width="4.1"/>
<line x1="1157.9" y1="1022.5" x2="1157.9" y2="1050" stroke="#161616" stroke-width="4.6"/>
<line x1="1102.7" y1="1022.5" x2="1102.7" y2="1032" stroke="#424242" stroke-width="4.1"/>
<line x1="1047.5" y1="1022.5" x2="1047.5" y2="1032" stroke="#424242" stroke-width="4.1"/>
<line x1="992.3" y1="1022.5" x2="992.3" y2="1032" stroke="#424242" stroke-width="4.1"/>
<line x1="937.1" y1="1022.5" x2="937.1" y2="1032" stroke="#424242" stroke-width="4.1"/>
<line x1="881.9" y1="1022.5" x2="881.9" y2="1050" stroke="#161616" stroke-width="4.6"/>
<line x1="826.7" y1="1022.5" x2="826.7" y2="1032" stroke="#424242" stroke-width="4.1"/>
<line x1="771.4" y1="1022.5" x2="771.4" y2="1032" stroke="#424242" stroke-width="4.1"/>
<line x1="716.2" y1="1022.5" x2="716.2" y2="1032" stroke="#424242" stroke-width="4.1"/>
<line x1="661" y1="1022.5" x2="661" y2="1032" stroke="#424242" stroke-width="4.1"/>
<line x1="605.8" y1="1022.5" x2="605.8" y2="1050" stroke="#161616" stroke-width="4.6"/>
<line x1="550.6" y1="1022.5" x2="550.6" y2="1032" stroke="#424242" stroke-width="4.1"/>
<line x1="495.4" y1="1022.5" x2="495.4" y2="1032" stroke="#424242" stroke-width="4.1"/>
<line x1="440.2" y1="1022.5" x2="440.2" y2="1032" stroke="#424242" stroke-width="4.1"/>
<line x1="385" y1="1022.5" x2="385" y2="1032" stroke="#424242" stroke-width="4.1"/>
<line x1="329.8" y1="1022.5" x2="329.8" y2="1050" stroke="#161616" stroke-width="4.6"/>
<line x1="274.6" y1="1022.5" x2="274.6" y2="1032" stroke="#424242" stroke-width="4.1"/>
</g>
<g id="axesB" filter="url(#b2)">
<line x1="287.9" y1="1216" x2="287.9" y2="2193.5" stroke="#383838" stroke-width="3.4"/>
<line x1="286.2" y1="2191.8" x2="2386" y2="2191.8" stroke="#383838" stroke-width="3.4"/>
<line x1="252.3" y1="2145.3" x2="287.9" y2="2145.3" stroke="#161616" stroke-width="4.4"/>
<line x1="276.5" y1="2081.4" x2="287.9" y2="2081.4" stroke="#4a4a4a" stroke-width="2.8"/>
<line x1="265" y1="2017.5" x2="287.9" y2="2017.5" stroke="#161616" stroke-width="4.2"/>
<line x1="276.5" y1="1953.6" x2="287.9" y2="1953.6" stroke="#4a4a4a" stroke-width="2.8"/>
<line x1="252.3" y1="1889.7" x2="287.9" y2="1889.7" stroke="#161616" stroke-width="4.4"/>
<line x1="276.5" y1="1825.9" x2="287.9" y2="1825.9" stroke="#4a4a4a" stroke-width="2.8"/>
<line x1="265" y1="1762" x2="287.9" y2="1762" stroke="#161616" stroke-width="4.2"/>
<line x1="276.5" y1="1698.1" x2="287.9" y2="1698.1" stroke="#4a4a4a" stroke-width="2.8"/>
<line x1="252.3" y1="1634.2" x2="287.9" y2="1634.2" stroke="#161616" stroke-width="4.4"/>
<line x1="276.5" y1="1570.3" x2="287.9" y2="1570.3" stroke="#4a4a4a" stroke-width="2.8"/>
<line x1="265" y1="1506.4" x2="287.9" y2="1506.4" stroke="#161616" stroke-width="4.2"/>
<line x1="276.5" y1="1442.5" x2="287.9" y2="1442.5" stroke="#4a4a4a" stroke-width="2.8"/>
<line x1="252.3" y1="1378.6" x2="287.9" y2="1378.6" stroke="#161616" stroke-width="4.4"/>
<line x1="276.5" y1="1314.7" x2="287.9" y2="1314.7" stroke="#4a4a4a" stroke-width="2.8"/>
<line x1="265" y1="1250.8" x2="287.9" y2="1250.8" stroke="#161616" stroke-width="4.2"/>
<line x1="2372.1" y1="2191.8" x2="2372.1" y2="2201.5" stroke="#4a4a4a" stroke-width="2.8"/>
<line x1="2317.7" y1="2191.8" x2="2317.7" y2="2201.5" stroke="#4a4a4a" stroke-width="2.8"/>
<line x1="2263.3" y1="2191.8" x2="2263.3" y2="2218" stroke="#161616" stroke-width="4.5"/>
<line x1="2208.8" y1="2191.8" x2="2208.8" y2="2201.5" stroke="#4a4a4a" stroke-width="2.8"/>
<line x1="2154.4" y1="2191.8" x2="2154.4" y2="2201.5" stroke="#4a4a4a" stroke-width="2.8"/>
<line x1="2100" y1="2191.8" x2="2100" y2="2201.5" stroke="#4a4a4a" stroke-width="2.8"/>
<line x1="2045.5" y1="2191.8" x2="2045.5" y2="2201.5" stroke="#4a4a4a" stroke-width="2.8"/>
<line x1="1991.1" y1="2191.8" x2="1991.1" y2="2218" stroke="#161616" stroke-width="4.5"/>
<line x1="1936.6" y1="2191.8" x2="1936.6" y2="2201.5" stroke="#4a4a4a" stroke-width="2.8"/>
<line x1="1882.2" y1="2191.8" x2="1882.2" y2="2201.5" stroke="#4a4a4a" stroke-width="2.8"/>
<line x1="1827.8" y1="2191.8" x2="1827.8" y2="2201.5" stroke="#4a4a4a" stroke-width="2.8"/>
<line x1="1773.3" y1="2191.8" x2="1773.3" y2="2201.5" stroke="#4a4a4a" stroke-width="2.8"/>
<line x1="1718.9" y1="2191.8" x2="1718.9" y2="2218" stroke="#161616" stroke-width="4.5"/>
<line x1="1664.5" y1="2191.8" x2="1664.5" y2="2201.5" stroke="#4a4a4a" stroke-width="2.8"/>
<line x1="1610" y1="2191.8" x2="1610" y2="2201.5" stroke="#4a4a4a" stroke-width="2.8"/>
<line x1="1555.6" y1="2191.8" x2="1555.6" y2="2201.5" stroke="#4a4a4a" stroke-width="2.8"/>
<line x1="1501.2" y1="2191.8" x2="1501.2" y2="2201.5" stroke="#4a4a4a" stroke-width="2.8"/>
<line x1="1446.7" y1="2191.8" x2="1446.7" y2="2218" stroke="#161616" stroke-width="4.5"/>
<line x1="1392.3" y1="2191.8" x2="1392.3" y2="2201.5" stroke="#4a4a4a" stroke-width="2.8"/>
<line x1="1337.8" y1="2191.8" x2="1337.8" y2="2201.5" stroke="#4a4a4a" stroke-width="2.8"/>
<line x1="1283.4" y1="2191.8" x2="1283.4" y2="2201.5" stroke="#4a4a4a" stroke-width="2.8"/>
<line x1="1229" y1="2191.8" x2="1229" y2="2201.5" stroke="#4a4a4a" stroke-width="2.8"/>
<line x1="1174.5" y1="2191.8" x2="1174.5" y2="2218" stroke="#161616" stroke-width="4.5"/>
<line x1="1120.1" y1="2191.8" x2="1120.1" y2="2201.5" stroke="#4a4a4a" stroke-width="2.8"/>
<line x1="1065.7" y1="2191.8" x2="1065.7" y2="2201.5" stroke="#4a4a4a" stroke-width="2.8"/>
<line x1="1011.2" y1="2191.8" x2="1011.2" y2="2201.5" stroke="#4a4a4a" stroke-width="2.8"/>
<line x1="956.8" y1="2191.8" x2="956.8" y2="2201.5" stroke="#4a4a4a" stroke-width="2.8"/>
<line x1="902.4" y1="2191.8" x2="902.4" y2="2218" stroke="#161616" stroke-width="4.5"/>
<line x1="847.9" y1="2191.8" x2="847.9" y2="2201.5" stroke="#4a4a4a" stroke-width="2.8"/>
<line x1="793.5" y1="2191.8" x2="793.5" y2="2201.5" stroke="#4a4a4a" stroke-width="2.8"/>
<line x1="739.1" y1="2191.8" x2="739.1" y2="2201.5" stroke="#4a4a4a" stroke-width="2.8"/>
<line x1="684.6" y1="2191.8" x2="684.6" y2="2201.5" stroke="#4a4a4a" stroke-width="2.8"/>
<line x1="630.2" y1="2191.8" x2="630.2" y2="2218" stroke="#161616" stroke-width="4.5"/>
<line x1="575.7" y1="2191.8" x2="575.7" y2="2201.5" stroke="#4a4a4a" stroke-width="2.8"/>
<line x1="521.3" y1="2191.8" x2="521.3" y2="2201.5" stroke="#4a4a4a" stroke-width="2.8"/>
<line x1="466.9" y1="2191.8" x2="466.9" y2="2201.5" stroke="#4a4a4a" stroke-width="2.8"/>
<line x1="412.4" y1="2191.8" x2="412.4" y2="2201.5" stroke="#4a4a4a" stroke-width="2.8"/>
<line x1="358" y1="2191.8" x2="358" y2="2218" stroke="#161616" stroke-width="4.5"/>
<line x1="303.6" y1="2191.8" x2="303.6" y2="2201.5" stroke="#4a4a4a" stroke-width="2.8"/>
</g>
<g id="text" filter="url(#b2)">
<text class="tk" text-anchor="end" transform="translate(217.2 1004.1) scale(0.915 1)">0</text>
<text class="tk" text-anchor="end" transform="translate(217.2 795.5) scale(0.915 1)">0.1</text>
<text class="tk" text-anchor="end" transform="translate(217.2 587) scale(0.915 1)">0.2</text>
<text class="tk" text-anchor="end" transform="translate(217.2 378.5) scale(0.915 1)">0.3</text>
<text class="tk" text-anchor="end" transform="translate(217.2 170) scale(0.915 1)">0.4</text>
<text class="tk" text-anchor="end" transform="translate(245.2 2161.5) scale(0.915 1)">0</text>
<text class="tk" text-anchor="end" transform="translate(245.2 1905.9) scale(0.915 1)">0.02</text>
<text class="tk" text-anchor="end" transform="translate(245.2 1650.4) scale(0.915 1)">0.04</text>
<text class="tk" text-anchor="end" transform="translate(245.2 1394.8) scale(0.915 1)">0.06</text>
<text class="tx" text-anchor="middle" transform="translate(2261.2 1088.8) scale(0.915 1)">500</text>
<text class="tx" text-anchor="middle" transform="translate(2261.8 2258.8) scale(0.915 1)">500</text>
<text class="tx" text-anchor="middle" transform="translate(1985.2 1088.8) scale(0.915 1)">1000</text>
<text class="tx" text-anchor="middle" transform="translate(1989.6 2258.8) scale(0.915 1)">1000</text>
<text class="tx" text-anchor="middle" transform="translate(1709.2 1088.8) scale(0.915 1)">1500</text>
<text class="tx" text-anchor="middle" transform="translate(1717.4 2258.8) scale(0.915 1)">1500</text>
<text class="tx" text-anchor="middle" transform="translate(1433.1 1088.8) scale(0.915 1)">2000</text>
<text class="tx" text-anchor="middle" transform="translate(1445.2 2258.8) scale(0.915 1)">2000</text>
<text class="tx" text-anchor="middle" transform="translate(1157.1 1088.8) scale(0.915 1)">2500</text>
<text class="tx" text-anchor="middle" transform="translate(1173 2258.8) scale(0.915 1)">2500</text>
<text class="tx" text-anchor="middle" transform="translate(881.1 1088.8) scale(0.915 1)">3000</text>
<text class="tx" text-anchor="middle" transform="translate(900.9 2258.8) scale(0.915 1)">3000</text>
<text class="tx" text-anchor="middle" transform="translate(605 1088.8) scale(0.915 1)">3500</text>
<text class="tx" text-anchor="middle" transform="translate(628.7 2258.8) scale(0.915 1)">3500</text>
<text class="tx" text-anchor="middle" transform="translate(329 1088.8) scale(0.915 1)">4000</text>
<text class="tx" text-anchor="middle" transform="translate(356.5 2258.8) scale(0.915 1)">4000</text>
<text class="cm" x="1259" y="1155.5">cm<tspan class="sup" dx="0.5" dy="-28.5">−</tspan><tspan class="sup" dx="1" dy="8.3">1</tspan></text>
<text class="cm" x="1273" y="2326.5">cm<tspan class="sup" dx="0.5" dy="-28.5">−</tspan><tspan class="sup" dx="1" dy="8.3">1</tspan></text>
<text class="ab" text-anchor="middle" transform="translate(87.5 512.3) rotate(-90)" textLength="308.5" lengthAdjust="spacing">absorbance</text>
<text class="ab" text-anchor="middle" transform="translate(87.5 1674.9) rotate(-90)" textLength="309" lengthAdjust="spacing">absorbance</text>
<text class="pl" transform="translate(452.3 303.3) scale(0.91 1)">A</text>
<text class="pl" transform="translate(452.4 1474.5) scale(0.79 1)">B</text>
</g>
</g>
</svg>
</body></html>
